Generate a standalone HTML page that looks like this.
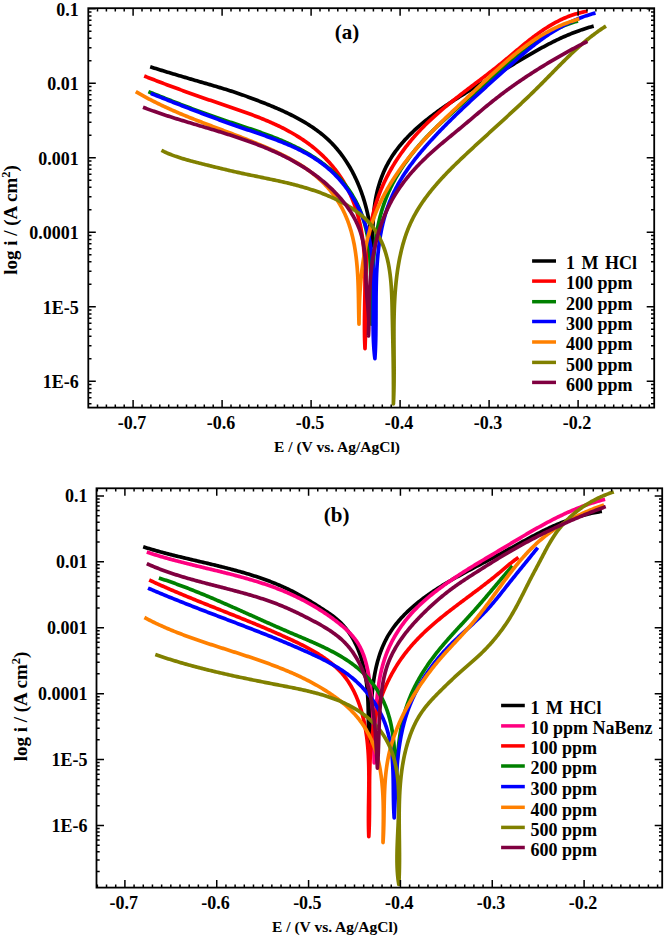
<!DOCTYPE html><html><head><meta charset="utf-8"><style>
html,body{margin:0;padding:0;background:#fff;width:666px;height:938px;overflow:hidden}
svg{display:block}
text{font-family:"Liberation Serif", serif;font-weight:bold;fill:#000}
.tl{font-size:18px}.lg{font-size:18px}.at{font-size:15.5px}.pl{font-size:21px}.yt{font-size:19px}
</style></head><body>
<svg width="666" height="938" viewBox="0 0 666 938">
<rect width="666" height="938" fill="#fff"/>
<g>
<path d="M150.2 66.8 151.62 67.25 153.04 67.7 154.46 68.15 155.89 68.6 157.32 69.04 158.76 69.49 160.2 69.94 161.64 70.38 163.09 70.83 164.54 71.27 165.99 71.71 167.44 72.15 168.9 72.6 170.36 73.04 171.82 73.48 173.28 73.91 174.75 74.35 176.21 74.79 177.68 75.23 179.15 75.66 180.62 76.1 182.09 76.53 183.56 76.97 185.03 77.4 186.5 77.83 187.97 78.26 189.44 78.69 190.91 79.12 192.38 79.55 193.85 79.98 195.31 80.41 196.78 80.84 198.24 81.26 199.71 81.69 201.17 82.11 202.63 82.54 204.08 82.96 205.54 83.39 206.99 83.81 208.44 84.23 209.88 84.65 211.33 85.07 212.77 85.49 214.21 85.92 215.64 86.34 217.08 86.76 218.51 87.19 219.94 87.62 221.36 88.05 222.78 88.48 224.2 88.91 225.62 89.35 227.04 89.79 228.45 90.23 229.86 90.68 231.26 91.12 232.67 91.58 234.07 92.04 235.47 92.5 236.86 92.97 238.26 93.44 239.65 93.91 241.04 94.4 242.42 94.88 243.81 95.38 245.19 95.88 246.58 96.38 247.96 96.89 249.35 97.4 250.73 97.92 252.13 98.44 253.52 98.96 254.92 99.49 256.32 100.03 257.73 100.57 259.13 101.11 260.55 101.66 261.96 102.21 263.38 102.76 264.8 103.33 266.23 103.89 267.65 104.47 269.07 105.04 270.5 105.63 271.93 106.22 273.35 106.82 274.78 107.42 276.2 108.03 277.63 108.65 279.05 109.27 280.47 109.9 281.89 110.54 283.31 111.18 284.72 111.83 286.13 112.5 287.54 113.16 288.94 113.84 290.34 114.53 291.73 115.22 293.12 115.92 294.5 116.64 295.88 117.36 297.25 118.09 298.61 118.83 299.97 119.58 301.32 120.33 302.66 121.1 303.99 121.88 305.32 122.67 306.63 123.47 307.94 124.29 309.24 125.11 310.53 125.94 311.8 126.79 313.07 127.64 314.33 128.51 315.57 129.39 316.81 130.28 318.03 131.18 319.24 132.1 320.43 133.03 321.61 133.97 322.78 134.93 323.94 135.89 325.08 136.87 326.21 137.87 327.32 138.88 328.41 139.9 329.49 140.93 330.56 141.98 331.61 143.04 332.65 144.12 333.67 145.21 334.67 146.31 335.66 147.42 336.64 148.55 337.6 149.68 338.55 150.83 339.48 151.99 340.4 153.16 341.3 154.35 342.19 155.54 343.07 156.74 343.93 157.96 344.77 159.19 345.61 160.42 346.43 161.67 347.23 162.92 348.02 164.19 348.8 165.46 349.56 166.75 350.31 168.04 351.05 169.34 351.77 170.66 352.48 171.97 353.17 173.3 353.86 174.64 354.52 175.98 355.18 177.33 355.82 178.69 356.45 180.06 357.07 181.43 357.67 182.81 358.26 184.2 358.84 185.6 359.41 187 359.96 188.4 360.5 189.81 361.02 191.23 361.54 192.66 362.04 194.09 362.53 195.52 363.01 196.96 363.47 198.4 363.93 199.85 364.37 201.31 364.8 202.76 365.21 204.22 365.62 205.69 366.01 207.16 366.39 208.63 366.76 210.11 367.12 211.59 367.47 213.07 367.8 214.55 368.12 216.04 368.44 217.53 368.74 219.02 369.03 220.51 369.31 222.01 369.57 223.5 369.83 225 370.07 226.5 370.31 228 370.53 229.5 370.74 231 370.95 232.5 371.14 234 371.32 235.5 371.49 237.01 371.65 238.51 371.8 240.01 371.94 241.51 372.06 243 372.18 244.5 372.29 246 372.35 244.51 372.39 243.02 372.43 241.52 372.47 240.02 372.51 238.52 372.55 237.02 372.59 235.51 372.63 234 372.68 232.49 372.73 230.98 372.78 229.47 372.84 227.95 372.9 226.44 372.97 224.92 373.04 223.41 373.12 221.89 373.21 220.38 373.3 218.86 373.41 217.35 373.52 215.84 373.65 214.33 373.78 212.82 373.92 211.31 374.08 209.8 374.25 208.3 374.43 206.79 374.63 205.29 374.83 203.8 375.06 202.3 375.3 200.81 375.55 199.33 375.82 197.84 376.11 196.36 376.42 194.89 376.74 193.42 377.08 191.96 377.43 190.5 377.81 189.04 378.2 187.59 378.61 186.15 379.03 184.71 379.48 183.28 379.94 181.85 380.42 180.44 380.91 179.03 381.43 177.62 381.96 176.23 382.51 174.84 383.08 173.46 383.66 172.09 384.26 170.72 384.88 169.37 385.52 168.02 386.18 166.69 386.85 165.36 387.55 164.04 388.26 162.74 388.99 161.44 389.73 160.15 390.5 158.88 391.28 157.61 392.08 156.36 392.9 155.11 393.74 153.88 394.59 152.66 395.46 151.45 396.34 150.24 397.24 149.05 398.15 147.87 399.08 146.7 400.03 145.53 400.99 144.38 401.96 143.24 402.94 142.1 403.94 140.98 404.95 139.86 405.97 138.75 407.01 137.66 408.05 136.57 409.11 135.49 410.18 134.42 411.26 133.36 412.35 132.3 413.44 131.26 414.55 130.22 415.67 129.19 416.79 128.17 417.93 127.16 419.07 126.16 420.22 125.16 421.38 124.17 422.54 123.19 423.71 122.22 424.88 121.25 426.07 120.3 427.25 119.35 428.45 118.4 429.64 117.47 430.85 116.54 432.05 115.61 433.26 114.7 434.48 113.79 435.69 112.89 436.92 111.99 438.14 111.1 439.37 110.22 440.6 109.34 441.84 108.47 443.08 107.6 444.32 106.74 445.57 105.88 446.82 105.03 448.07 104.18 449.33 103.34 450.59 102.51 451.85 101.67 453.11 100.84 454.38 100.02 455.65 99.2 456.92 98.38 458.19 97.57 459.47 96.76 460.75 95.96 462.03 95.16 463.31 94.36 464.59 93.56 465.88 92.77 467.16 91.98 468.45 91.19 469.74 90.4 471.03 89.62 472.32 88.84 473.62 88.06 474.91 87.28 476.2 86.5 477.5 85.73 478.8 84.95 480.09 84.18 481.39 83.41 482.69 82.64 483.99 81.87 485.28 81.1 486.58 80.33 487.88 79.56 489.18 78.79 490.48 78.02 491.77 77.25 493.07 76.48 494.37 75.71 495.66 74.94 496.96 74.17 498.26 73.4 499.55 72.63 500.84 71.85 502.13 71.08 503.43 70.3 504.72 69.52 506.01 68.74 507.3 67.96 508.58 67.18 509.87 66.4 511.16 65.62 512.45 64.84 513.74 64.07 515.03 63.29 516.32 62.51 517.61 61.74 518.89 60.96 520.19 60.19 521.48 59.42 522.77 58.65 524.06 57.88 525.35 57.12 526.65 56.35 527.94 55.59 529.24 54.84 530.54 54.08 531.84 53.33 533.14 52.59 534.45 51.84 535.75 51.1 537.06 50.37 538.37 49.64 539.68 48.91 541 48.19 542.31 47.47 543.63 46.76 544.95 46.05 546.28 45.35 547.6 44.65 548.93 43.96 550.27 43.28 551.6 42.6 552.94 41.93 554.29 41.26 555.63 40.6 556.98 39.95 558.34 39.31 559.69 38.67 561.06 38.04 562.42 37.42 563.79 36.81 565.16 36.2 566.54 35.6 567.93 35.01 569.31 34.43 570.71 33.86 572.1 33.3 573.5 32.75 574.91 32.21 576.32 31.67 577.74 31.15 579.16 30.64 580.59 30.13 582.02 29.64 583.46 29.16 584.91 28.69 586.36 28.23 587.81 27.78 589.27 27.34 590.74 26.92 592.22 26.5 593.7 26.1" stroke="#000000" stroke-width="3.7" fill="none" stroke-linejoin="round" stroke-linecap="butt"/>
<path d="M144.2 76 145.61 76.56 147.02 77.11 148.42 77.66 149.83 78.21 151.24 78.76 152.64 79.31 154.05 79.85 155.45 80.4 156.86 80.94 158.26 81.47 159.66 82.01 161.07 82.55 162.47 83.08 163.88 83.61 165.28 84.14 166.68 84.67 168.09 85.2 169.49 85.72 170.89 86.25 172.3 86.77 173.7 87.29 175.1 87.81 176.51 88.32 177.91 88.84 179.32 89.35 180.73 89.87 182.13 90.38 183.54 90.89 184.95 91.4 186.35 91.91 187.76 92.41 189.17 92.92 190.58 93.42 191.99 93.93 193.41 94.43 194.82 94.93 196.23 95.43 197.65 95.93 199.06 96.42 200.48 96.92 201.9 97.42 203.32 97.91 204.74 98.41 206.16 98.9 207.59 99.39 209.01 99.88 210.44 100.37 211.87 100.86 213.29 101.35 214.73 101.84 216.16 102.33 217.59 102.82 219.03 103.3 220.47 103.79 221.9 104.28 223.34 104.76 224.78 105.25 226.22 105.74 227.67 106.23 229.11 106.72 230.55 107.21 231.99 107.7 233.43 108.19 234.88 108.69 236.32 109.19 237.76 109.69 239.2 110.19 240.64 110.7 242.08 111.2 243.52 111.71 244.95 112.23 246.39 112.74 247.82 113.26 249.25 113.79 250.68 114.32 252.11 114.85 253.54 115.39 254.96 115.93 256.38 116.47 257.8 117.03 259.22 117.58 260.63 118.14 262.04 118.71 263.45 119.28 264.85 119.86 266.25 120.45 267.65 121.04 269.04 121.64 270.43 122.24 271.82 122.85 273.2 123.47 274.58 124.1 275.95 124.73 277.31 125.37 278.68 126.02 280.03 126.68 281.39 127.34 282.73 128.02 284.07 128.7 285.41 129.39 286.74 130.09 288.07 130.8 289.38 131.52 290.7 132.25 292 132.99 293.3 133.74 294.59 134.5 295.88 135.27 297.16 136.05 298.43 136.84 299.7 137.64 300.95 138.45 302.2 139.28 303.44 140.11 304.68 140.96 305.91 141.82 307.12 142.69 308.33 143.58 309.53 144.48 310.73 145.38 311.91 146.3 313.08 147.24 314.25 148.18 315.4 149.14 316.55 150.1 317.68 151.08 318.81 152.08 319.92 153.08 321.02 154.09 322.11 155.12 323.19 156.16 324.26 157.21 325.32 158.27 326.36 159.34 327.39 160.42 328.41 161.52 329.42 162.62 330.41 163.74 331.39 164.87 332.36 166.01 333.32 167.16 334.26 168.32 335.18 169.49 336.09 170.68 336.99 171.87 337.87 173.08 338.74 174.29 339.59 175.52 340.43 176.76 341.25 178.01 342.05 179.27 342.85 180.54 343.62 181.82 344.38 183.11 345.13 184.4 345.85 185.71 346.57 187.03 347.27 188.35 347.95 189.68 348.62 191.03 349.27 192.37 349.91 193.73 350.54 195.09 351.15 196.47 351.74 197.84 352.32 199.23 352.88 200.62 353.43 202.01 353.97 203.42 354.49 204.83 354.99 206.24 355.48 207.66 355.96 209.08 356.42 210.51 356.86 211.94 357.29 213.38 357.71 214.82 358.11 216.26 358.5 217.71 358.88 219.16 359.23 220.62 359.58 222.07 359.91 223.54 360.23 225 360.54 226.47 360.83 227.94 361.11 229.41 361.38 230.88 361.64 232.36 361.88 233.84 362.12 235.32 362.34 236.81 362.55 238.3 362.75 239.79 362.94 241.28 363.12 242.78 363.29 244.27 363.45 245.77 363.6 247.27 363.74 248.78 363.87 250.28 364 251.79 364.11 253.3 364.22 254.81 364.32 256.32 364.41 257.83 364.49 259.35 364.57 260.86 364.63 262.38 364.7 263.9 364.75 265.42 364.8 266.94 364.84 268.46 364.88 269.98 364.91 271.51 364.94 273.03 364.96 274.56 364.98 276.08 364.99 277.61 365 279.14 365 280.66 365 282.19 365 283.72 364.99 285.25 364.98 286.78 364.97 288.3 364.95 289.83 364.94 291.36 364.92 292.89 364.89 294.42 364.87 295.95 364.85 297.47 364.82 299 364.8 300.53 364.77 302.05 364.74 303.58 364.71 305.1 364.69 306.63 364.66 308.15 364.63 309.67 364.61 311.19 364.58 312.71 364.56 314.23 364.54 315.75 364.52 317.27 364.51 318.78 364.49 320.3 364.48 321.81 364.47 323.32 364.46 324.83 364.46 326.34 364.46 327.84 364.47 329.35 364.48 330.85 364.49 332.35 364.51 333.85 364.53 335.34 364.56 336.84 364.59 338.33 364.63 339.82 364.68 341.3 364.73 342.79 364.79 344.27 364.85 345.75 364.92 347.23 365 348.7 365.06 347.23 365.12 345.75 365.17 344.28 365.22 342.8 365.27 341.31 365.31 339.83 365.35 338.34 365.38 336.85 365.41 335.36 365.44 333.87 365.46 332.37 365.49 330.87 365.51 329.37 365.52 327.87 365.54 326.37 365.55 324.86 365.56 323.36 365.57 321.85 365.58 320.34 365.58 318.83 365.59 317.31 365.59 315.8 365.6 314.28 365.6 312.77 365.6 311.25 365.6 309.73 365.6 308.21 365.61 306.69 365.61 305.17 365.61 303.65 365.61 302.12 365.62 300.6 365.62 299.08 365.63 297.55 365.64 296.03 365.64 294.5 365.65 292.97 365.67 291.45 365.68 289.92 365.7 288.39 365.72 286.87 365.74 285.34 365.76 283.82 365.79 282.29 365.82 280.76 365.85 279.24 365.89 277.71 365.93 276.19 365.97 274.66 366.02 273.14 366.07 271.61 366.13 270.09 366.19 268.57 366.26 267.05 366.33 265.53 366.4 264.01 366.49 262.49 366.57 260.97 366.66 259.46 366.76 257.94 366.87 256.43 366.98 254.92 367.09 253.41 367.21 251.9 367.34 250.39 367.48 248.89 367.62 247.38 367.77 245.88 367.93 244.38 368.1 242.88 368.27 241.38 368.45 239.89 368.64 238.4 368.83 236.91 369.04 235.42 369.25 233.93 369.48 232.45 369.71 230.97 369.95 229.49 370.2 228.02 370.46 226.54 370.73 225.07 371.01 223.6 371.3 222.14 371.6 220.68 371.91 219.22 372.23 217.76 372.56 216.31 372.9 214.86 373.25 213.42 373.62 211.97 373.99 210.53 374.38 209.1 374.78 207.66 375.19 206.24 375.62 204.81 376.05 203.39 376.5 201.97 376.96 200.56 377.43 199.15 377.92 197.74 378.42 196.34 378.93 194.94 379.46 193.55 380 192.16 380.55 190.78 381.11 189.39 381.69 188.02 382.28 186.65 382.88 185.28 383.49 183.92 384.12 182.56 384.76 181.21 385.41 179.86 386.07 178.52 386.74 177.18 387.42 175.85 388.12 174.52 388.82 173.2 389.54 171.88 390.27 170.57 391.01 169.26 391.76 167.96 392.52 166.66 393.29 165.37 394.07 164.09 394.86 162.81 395.66 161.54 396.48 160.27 397.3 159.01 398.13 157.75 398.97 156.5 399.82 155.26 400.68 154.02 401.55 152.79 402.43 151.57 403.32 150.35 404.22 149.14 405.12 147.93 406.04 146.73 406.96 145.54 407.89 144.36 408.83 143.18 409.78 142.01 410.74 140.84 411.7 139.68 412.68 138.53 413.66 137.39 414.65 136.25 415.64 135.12 416.65 134 417.66 132.88 418.68 131.78 419.7 130.68 420.74 129.58 421.78 128.5 422.82 127.42 423.88 126.35 424.94 125.29 426 124.23 427.07 123.18 428.15 122.14 429.24 121.1 430.33 120.07 431.42 119.05 432.52 118.03 433.63 117.02 434.74 116.02 435.86 115.02 436.98 114.02 438.11 113.03 439.24 112.05 440.38 111.07 441.52 110.09 442.66 109.12 443.81 108.16 444.96 107.19 446.12 106.24 447.28 105.28 448.44 104.33 449.61 103.38 450.78 102.44 451.95 101.5 453.13 100.56 454.31 99.63 455.49 98.7 456.68 97.77 457.86 96.84 459.05 95.92 460.24 94.99 461.43 94.07 462.63 93.15 463.83 92.23 465.02 91.32 466.22 90.4 467.42 89.49 468.62 88.57 469.83 87.66 471.03 86.75 472.23 85.84 473.44 84.92 474.64 84.01 475.85 83.1 477.05 82.19 478.25 81.27 479.46 80.36 480.66 79.44 481.87 78.53 483.07 77.61 484.27 76.69 485.47 75.77 486.67 74.85 487.87 73.93 489.07 73 490.26 72.08 491.46 71.15 492.65 70.21 493.84 69.28 495.03 68.34 496.22 67.4 497.4 66.45 498.58 65.51 499.76 64.55 500.93 63.6 502.11 62.64 503.28 61.68 504.44 60.71 505.61 59.74 506.77 58.77 507.94 57.8 509.1 56.83 510.26 55.86 511.42 54.88 512.57 53.91 513.73 52.93 514.89 51.96 516.05 50.99 517.21 50.02 518.37 49.05 519.53 48.08 520.69 47.12 521.85 46.16 523.01 45.2 524.18 44.25 525.35 43.3 526.52 42.36 527.69 41.42 528.87 40.48 530.05 39.56 531.23 38.64 532.42 37.72 533.61 36.82 534.81 35.92 536.01 35.03 537.21 34.15 538.42 33.27 539.63 32.41 540.85 31.56 542.08 30.71 543.31 29.88 544.55 29.05 545.79 28.24 547.05 27.44 548.3 26.66 549.57 25.88 550.84 25.12 552.12 24.37 553.41 23.64 554.71 22.92 556.01 22.21 557.33 21.52 558.65 20.84 559.98 20.18 561.33 19.54 562.68 18.91 564.04 18.3 565.41 17.71 566.79 17.14 568.19 16.58 569.59 16.04 571.01 15.53 572.44 15.03 573.87 14.55 575.33 14.09 576.79 13.65 578.27 13.23 579.75 12.84 581.26 12.47 582.77 12.11 584.3 11.79 585.84 11.48 587.4 11.2" stroke="#ff0000" stroke-width="3.7" fill="none" stroke-linejoin="round" stroke-linecap="butt"/>
<path d="M148.4 91.6 149.81 92.17 151.22 92.73 152.63 93.3 154.04 93.87 155.45 94.43 156.86 94.99 158.26 95.56 159.67 96.12 161.07 96.68 162.47 97.23 163.87 97.79 165.27 98.35 166.67 98.9 168.07 99.45 169.47 100 170.87 100.55 172.27 101.1 173.67 101.65 175.07 102.2 176.47 102.74 177.86 103.28 179.26 103.82 180.66 104.36 182.06 104.9 183.46 105.44 184.85 105.97 186.25 106.51 187.65 107.04 189.05 107.57 190.45 108.09 191.85 108.62 193.25 109.15 194.66 109.67 196.06 110.19 197.46 110.71 198.87 111.23 200.27 111.74 201.68 112.26 203.09 112.77 204.5 113.28 205.91 113.79 207.32 114.3 208.73 114.8 210.15 115.3 211.56 115.81 212.98 116.3 214.4 116.8 215.82 117.3 217.25 117.79 218.67 118.28 220.1 118.77 221.53 119.26 222.96 119.74 224.39 120.22 225.83 120.71 227.26 121.19 228.7 121.67 230.14 122.14 231.58 122.62 233.02 123.1 234.46 123.58 235.91 124.05 237.35 124.53 238.8 125.01 240.24 125.48 241.69 125.96 243.13 126.44 244.58 126.92 246.02 127.41 247.47 127.89 248.91 128.38 250.36 128.87 251.8 129.36 253.25 129.85 254.69 130.34 256.13 130.84 257.57 131.35 259.01 131.85 260.45 132.36 261.88 132.87 263.32 133.39 264.75 133.91 266.18 134.44 267.61 134.97 269.04 135.5 270.46 136.04 271.89 136.59 273.31 137.14 274.72 137.7 276.14 138.26 277.55 138.83 278.96 139.41 280.36 139.99 281.77 140.58 283.16 141.18 284.56 141.78 285.95 142.39 287.34 143.01 288.72 143.64 290.1 144.27 291.48 144.92 292.85 145.57 294.22 146.23 295.58 146.9 296.94 147.58 298.29 148.27 299.64 148.97 300.98 149.68 302.32 150.39 303.65 151.12 304.97 151.86 306.29 152.61 307.61 153.37 308.92 154.15 310.22 154.93 311.52 155.72 312.8 156.53 314.08 157.35 315.36 158.17 316.62 159.01 317.87 159.87 319.12 160.73 320.36 161.6 321.58 162.49 322.8 163.39 324 164.3 325.2 165.22 326.38 166.15 327.55 167.1 328.71 168.06 329.86 169.03 331 170.01 332.12 171.01 333.23 172.02 334.32 173.04 335.4 174.07 336.47 175.12 337.52 176.18 338.55 177.25 339.57 178.34 340.58 179.44 341.56 180.55 342.54 181.67 343.49 182.81 344.43 183.96 345.35 185.12 346.26 186.3 347.15 187.48 348.02 188.68 348.88 189.89 349.72 191.11 350.54 192.34 351.34 193.58 352.13 194.83 352.9 196.09 353.65 197.36 354.38 198.64 355.1 199.94 355.8 201.24 356.48 202.55 357.14 203.87 357.79 205.19 358.41 206.53 359.02 207.87 359.61 209.23 360.18 210.59 360.73 211.96 361.26 213.33 361.78 214.72 362.27 216.11 362.75 217.5 363.21 218.91 363.65 220.32 364.07 221.74 364.47 223.16 364.86 224.59 365.24 226.03 365.59 227.47 365.94 228.92 366.26 230.37 366.57 231.83 366.87 233.3 367.15 234.77 367.42 236.24 367.68 237.72 367.92 239.2 368.15 240.69 368.36 242.18 368.57 243.67 368.76 245.17 368.94 246.68 369.11 248.18 369.27 249.69 369.42 251.2 369.56 252.72 369.69 254.24 369.81 255.76 369.92 257.28 370.02 258.81 370.11 260.34 370.2 261.87 370.28 263.4 370.35 264.93 370.42 266.47 370.47 268 370.53 269.54 370.57 271.08 370.61 272.62 370.65 274.16 370.68 275.7 370.71 277.24 370.73 278.78 370.75 280.32 370.77 281.86 370.78 283.4 370.79 284.94 370.8 286.48 370.8 288.01 370.81 289.55 370.81 291.08 370.81 292.62 370.82 294.15 370.82 295.68 370.82 297.21 370.82 298.73 370.83 300.26 370.83 301.78 370.84 303.3 370.85 304.82 370.86 306.33 370.87 307.84 370.89 309.35 370.91 310.85 370.93 312.35 370.96 313.85 370.99 315.34 371.03 316.83 371.07 318.31 371.12 319.79 371.17 321.26 371.23 322.73 371.3 324.2 371.36 322.71 371.41 321.22 371.46 319.72 371.5 318.23 371.55 316.73 371.59 315.23 371.63 313.73 371.67 312.22 371.7 310.72 371.74 309.21 371.77 307.7 371.81 306.19 371.84 304.68 371.87 303.17 371.9 301.65 371.94 300.14 371.97 298.62 372 297.1 372.03 295.59 372.07 294.07 372.1 292.55 372.14 291.03 372.18 289.51 372.22 287.98 372.26 286.46 372.31 284.94 372.35 283.42 372.4 281.89 372.45 280.37 372.51 278.85 372.56 277.33 372.62 275.8 372.69 274.28 372.76 272.76 372.83 271.24 372.91 269.72 372.99 268.2 373.07 266.68 373.17 265.16 373.26 263.64 373.36 262.13 373.47 260.61 373.58 259.1 373.7 257.58 373.82 256.07 373.95 254.56 374.09 253.05 374.24 251.54 374.39 250.04 374.55 248.53 374.71 247.03 374.88 245.53 375.07 244.03 375.26 242.54 375.45 241.04 375.66 239.55 375.87 238.06 376.1 236.57 376.33 235.09 376.57 233.61 376.82 232.13 377.09 230.65 377.36 229.18 377.64 227.71 377.93 226.24 378.23 224.77 378.55 223.31 378.87 221.85 379.21 220.4 379.55 218.95 379.91 217.5 380.28 216.05 380.67 214.61 381.06 213.17 381.47 211.74 381.89 210.31 382.32 208.89 382.77 207.47 383.23 206.05 383.7 204.64 384.19 203.23 384.69 201.82 385.2 200.42 385.73 199.03 386.28 197.64 386.84 196.25 387.41 194.87 388 193.5 388.6 192.13 389.22 190.76 389.85 189.4 390.49 188.04 391.15 186.69 391.82 185.35 392.5 184.01 393.19 182.67 393.9 181.34 394.62 180.02 395.36 178.7 396.1 177.38 396.86 176.07 397.63 174.77 398.41 173.47 399.2 172.18 400 170.9 400.82 169.62 401.64 168.34 402.48 167.07 403.32 165.81 404.18 164.55 405.04 163.3 405.92 162.06 406.8 160.82 407.7 159.59 408.6 158.36 409.51 157.14 410.43 155.92 411.36 154.72 412.3 153.51 413.25 152.32 414.2 151.13 415.17 149.95 416.14 148.77 417.11 147.6 418.1 146.44 419.09 145.28 420.09 144.13 421.1 142.99 422.11 141.85 423.13 140.72 424.16 139.6 425.19 138.49 426.22 137.38 427.27 136.28 428.32 135.18 429.37 134.09 430.43 133.01 431.49 131.94 432.56 130.88 433.63 129.82 434.71 128.76 435.79 127.72 436.87 126.68 437.96 125.64 439.06 124.61 440.15 123.58 441.25 122.56 442.35 121.55 443.46 120.53 444.56 119.53 445.67 118.52 446.78 117.52 447.9 116.52 449.01 115.52 450.13 114.52 451.24 113.53 452.36 112.54 453.48 111.54 454.6 110.55 455.72 109.56 456.85 108.58 457.97 107.59 459.09 106.6 460.22 105.61 461.34 104.63 462.47 103.64 463.59 102.65 464.72 101.67 465.85 100.68 466.97 99.69 468.1 98.7 469.23 97.71 470.36 96.73 471.48 95.73 472.61 94.74 473.74 93.75 474.87 92.76 475.99 91.76 477.12 90.77 478.25 89.77 479.38 88.77 480.5 87.77 481.63 86.76 482.75 85.76 483.88 84.75 485 83.74 486.13 82.73 487.25 81.71 488.37 80.69 489.5 79.68 490.62 78.66 491.74 77.64 492.87 76.61 493.99 75.59 495.12 74.57 496.24 73.55 497.37 72.53 498.5 71.51 499.63 70.49 500.76 69.47 501.89 68.46 503.02 67.44 504.16 66.43 505.29 65.42 506.43 64.41 507.57 63.41 508.72 62.41 509.86 61.41 511.01 60.42 512.16 59.43 513.32 58.44 514.48 57.46 515.64 56.49 516.8 55.52 517.97 54.55 519.14 53.59 520.32 52.64 521.49 51.69 522.68 50.75 523.87 49.82 525.06 48.9 526.25 47.98 527.46 47.07 528.66 46.16 529.87 45.27 531.09 44.39 532.31 43.51 533.54 42.64 534.77 41.78 536.01 40.94 537.25 40.1 538.5 39.27 539.76 38.45 541.02 37.65 542.29 36.85 543.56 36.07 544.84 35.29 546.13 34.53 547.43 33.79 548.73 33.05 550.04 32.33 551.36 31.62 552.69 30.92 554.02 30.24 555.36 29.57 556.71 28.92 558.06 28.28 559.43 27.65 560.8 27.04 562.19 26.45 563.58 25.87 564.98 25.31 566.39 24.76 567.8 24.23 569.23 23.71 570.67 23.22 572.11 22.74 573.57 22.28 575.04 21.83 576.51 21.41 578 21" stroke="#008000" stroke-width="3.7" fill="none" stroke-linejoin="round" stroke-linecap="butt"/>
<path d="M150.8 93.4 152.24 93.97 153.67 94.55 155.11 95.12 156.54 95.69 157.96 96.26 159.39 96.82 160.81 97.39 162.23 97.95 163.64 98.51 165.06 99.07 166.47 99.63 167.88 100.19 169.28 100.75 170.69 101.3 172.09 101.86 173.49 102.41 174.89 102.96 176.29 103.51 177.69 104.06 179.09 104.6 180.48 105.15 181.87 105.69 183.26 106.23 184.66 106.78 186.05 107.31 187.43 107.85 188.82 108.39 190.21 108.93 191.6 109.46 192.99 109.99 194.37 110.53 195.76 111.06 197.15 111.59 198.53 112.11 199.92 112.64 201.31 113.17 202.69 113.69 204.08 114.21 205.47 114.74 206.86 115.26 208.24 115.78 209.63 116.29 211.02 116.81 212.42 117.33 213.81 117.84 215.2 118.36 216.6 118.87 217.99 119.38 219.39 119.89 220.79 120.4 222.19 120.91 223.59 121.42 225 121.92 226.41 122.43 227.81 122.93 229.23 123.43 230.64 123.94 232.05 124.44 233.47 124.94 234.89 125.43 236.31 125.93 237.74 126.43 239.17 126.92 240.6 127.42 242.03 127.91 243.47 128.41 244.91 128.9 246.35 129.39 247.8 129.88 249.24 130.37 250.69 130.87 252.14 131.36 253.59 131.85 255.04 132.35 256.5 132.85 257.95 133.34 259.4 133.84 260.86 134.35 262.31 134.85 263.76 135.36 265.22 135.87 266.67 136.39 268.12 136.91 269.56 137.43 271.01 137.95 272.45 138.49 273.9 139.02 275.34 139.56 276.77 140.11 278.21 140.66 279.64 141.22 281.06 141.78 282.49 142.35 283.91 142.92 285.32 143.51 286.73 144.09 288.14 144.69 289.54 145.3 290.93 145.91 292.32 146.53 293.71 147.16 295.09 147.79 296.46 148.44 297.82 149.1 299.18 149.76 300.53 150.44 301.88 151.12 303.21 151.81 304.54 152.52 305.87 153.24 307.18 153.96 308.48 154.7 309.78 155.45 311.06 156.21 312.34 156.99 313.61 157.77 314.87 158.57 316.12 159.38 317.35 160.21 318.58 161.04 319.8 161.9 321 162.76 322.2 163.64 323.38 164.54 324.55 165.44 325.71 166.37 326.86 167.31 327.99 168.26 329.11 169.23 330.22 170.22 331.32 171.22 332.4 172.23 333.47 173.26 334.53 174.3 335.58 175.35 336.61 176.42 337.63 177.51 338.63 178.6 339.63 179.71 340.61 180.83 341.57 181.97 342.53 183.11 343.46 184.27 344.39 185.44 345.3 186.62 346.2 187.82 347.08 189.02 347.95 190.24 348.81 191.46 349.65 192.7 350.48 193.95 351.29 195.2 352.09 196.47 352.87 197.75 353.64 199.03 354.4 200.33 355.14 201.63 355.87 202.95 356.58 204.27 357.28 205.6 357.96 206.94 358.63 208.28 359.28 209.64 359.91 211 360.54 212.37 361.14 213.74 361.73 215.12 362.31 216.51 362.87 217.91 363.41 219.31 363.94 220.72 364.45 222.13 364.95 223.55 365.43 224.97 365.9 226.4 366.35 227.84 366.78 229.28 367.2 230.72 367.6 232.17 367.98 233.62 368.35 235.07 368.7 236.53 369.04 237.99 369.36 239.46 369.67 240.93 369.96 242.4 370.23 243.88 370.5 245.36 370.74 246.84 370.98 248.32 371.2 249.81 371.41 251.3 371.61 252.79 371.79 254.29 371.96 255.79 372.12 257.29 372.28 258.79 372.41 260.29 372.54 261.8 372.66 263.31 372.77 264.82 372.87 266.33 372.96 267.85 373.05 269.36 373.12 270.88 373.19 272.4 373.25 273.92 373.3 275.44 373.34 276.97 373.38 278.49 373.41 280.02 373.44 281.54 373.46 283.07 373.47 284.6 373.48 286.13 373.49 287.66 373.49 289.19 373.48 290.72 373.48 292.25 373.47 293.78 373.46 295.31 373.44 296.84 373.42 298.37 373.41 299.91 373.39 301.44 373.36 302.97 373.34 304.5 373.32 306.03 373.3 307.56 373.27 309.09 373.25 310.61 373.23 312.14 373.21 313.67 373.19 315.19 373.18 316.72 373.16 318.24 373.15 319.76 373.14 321.28 373.14 322.8 373.14 324.32 373.14 325.84 373.15 327.35 373.16 328.86 373.17 330.37 373.2 331.88 373.22 333.39 373.26 334.89 373.3 336.39 373.34 337.89 373.4 339.39 373.46 340.89 373.53 342.38 373.61 343.87 373.69 345.36 373.79 346.84 373.89 348.32 374 349.8 374.13 351.27 374.26 352.75 374.4 354.22 374.56 355.68 374.72 357.14 374.9 358.6 375 357.15 375.08 355.69 375.17 354.24 375.24 352.77 375.32 351.31 375.38 349.84 375.44 348.36 375.5 346.89 375.55 345.41 375.6 343.92 375.65 342.44 375.69 340.95 375.73 339.45 375.76 337.96 375.79 336.46 375.82 334.96 375.84 333.45 375.86 331.95 375.88 330.44 375.9 328.93 375.91 327.42 375.93 325.9 375.94 324.38 375.95 322.86 375.95 321.34 375.96 319.82 375.97 318.29 375.97 316.77 375.98 315.24 375.98 313.71 375.99 312.18 375.99 310.65 375.99 309.11 376 307.58 376 306.05 376.01 304.51 376.02 302.97 376.03 301.44 376.04 299.9 376.05 298.36 376.06 296.82 376.08 295.28 376.1 293.74 376.12 292.2 376.14 290.66 376.16 289.13 376.19 287.59 376.22 286.05 376.26 284.51 376.3 282.97 376.34 281.43 376.39 279.9 376.44 278.36 376.49 276.83 376.55 275.29 376.61 273.76 376.68 272.23 376.76 270.69 376.84 269.17 376.92 267.64 377.01 266.11 377.11 264.58 377.21 263.06 377.32 261.54 377.44 260.02 377.56 258.5 377.69 256.99 377.83 255.47 377.97 253.96 378.12 252.45 378.28 250.94 378.45 249.44 378.62 247.94 378.8 246.44 379 244.94 379.2 243.45 379.4 241.96 379.62 240.47 379.85 238.98 380.09 237.5 380.33 236.03 380.59 234.55 380.86 233.08 381.13 231.61 381.42 230.15 381.72 228.69 382.03 227.23 382.35 225.78 382.68 224.33 383.02 222.89 383.37 221.45 383.74 220.02 384.12 218.59 384.51 217.16 384.91 215.74 385.32 214.32 385.75 212.91 386.19 211.5 386.65 210.1 387.11 208.7 387.59 207.31 388.09 205.93 388.6 204.55 389.12 203.17 389.66 201.8 390.21 200.44 390.77 199.08 391.36 197.72 391.95 196.38 392.56 195.04 393.19 193.7 393.83 192.37 394.48 191.05 395.15 189.73 395.83 188.42 396.53 187.11 397.23 185.81 397.95 184.51 398.69 183.22 399.43 181.94 400.19 180.66 400.96 179.38 401.74 178.11 402.53 176.85 403.33 175.59 404.15 174.34 404.97 173.09 405.81 171.85 406.65 170.61 407.51 169.37 408.37 168.14 409.25 166.92 410.13 165.7 411.02 164.49 411.93 163.28 412.84 162.07 413.75 160.87 414.68 159.68 415.61 158.48 416.56 157.3 417.5 156.11 418.46 154.94 419.42 153.76 420.39 152.59 421.37 151.43 422.35 150.27 423.34 149.11 424.33 147.96 425.33 146.81 426.33 145.66 427.34 144.52 428.35 143.39 429.37 142.25 430.39 141.12 431.42 140 432.45 138.88 433.48 137.76 434.52 136.64 435.56 135.53 436.6 134.43 437.64 133.32 438.69 132.22 439.74 131.12 440.79 130.03 441.85 128.94 442.91 127.85 443.97 126.77 445.03 125.69 446.09 124.61 447.16 123.53 448.23 122.46 449.3 121.39 450.38 120.33 451.46 119.26 452.53 118.2 453.62 117.14 454.7 116.08 455.78 115.03 456.87 113.98 457.96 112.93 459.05 111.88 460.14 110.84 461.24 109.79 462.33 108.75 463.43 107.71 464.53 106.68 465.63 105.64 466.73 104.61 467.83 103.58 468.94 102.55 470.04 101.52 471.15 100.49 472.26 99.47 473.37 98.44 474.48 97.42 475.59 96.4 476.7 95.38 477.82 94.36 478.93 93.34 480.04 92.33 481.16 91.31 482.28 90.3 483.4 89.28 484.51 88.27 485.63 87.26 486.75 86.24 487.87 85.23 488.99 84.22 490.11 83.21 491.23 82.2 492.35 81.19 493.48 80.19 494.6 79.18 495.72 78.17 496.84 77.16 497.96 76.15 499.09 75.14 500.21 74.14 501.33 73.13 502.45 72.12 503.57 71.11 504.7 70.1 505.82 69.1 506.94 68.09 508.07 67.09 509.19 66.08 510.32 65.08 511.44 64.08 512.57 63.08 513.7 62.09 514.83 61.09 515.97 60.1 517.1 59.11 518.24 58.13 519.38 57.15 520.52 56.17 521.66 55.2 522.81 54.23 523.96 53.26 525.11 52.3 526.26 51.34 527.42 50.39 528.58 49.44 529.75 48.5 530.92 47.57 532.09 46.64 533.27 45.71 534.45 44.79 535.63 43.88 536.82 42.98 538.01 42.08 539.21 41.19 540.41 40.3 541.62 39.43 542.83 38.56 544.05 37.7 545.27 36.84 546.5 36 547.73 35.16 548.97 34.33 550.21 33.52 551.46 32.71 552.72 31.91 553.98 31.12 555.25 30.34 556.53 29.57 557.81 28.81 559.1 28.06 560.4 27.32 561.7 26.59 563.01 25.88 564.33 25.17 565.66 24.48 566.99 23.8 568.33 23.13 569.68 22.47 571.04 21.83 572.41 21.2 573.78 20.58 575.16 19.97 576.55 19.38 577.95 18.8 579.36 18.24 580.78 17.69 582.21 17.15 583.65 16.63 585.09 16.12 586.55 15.63 588.02 15.15 589.49 14.69 590.98 14.24 592.48 13.81 593.98 13.4 595.5 13" stroke="#0000ff" stroke-width="3.7" fill="none" stroke-linejoin="round" stroke-linecap="butt"/>
<path d="M135.8 91.6 137.11 92.38 138.42 93.14 139.74 93.9 141.06 94.65 142.38 95.4 143.71 96.13 145.04 96.86 146.37 97.58 147.7 98.3 149.03 99.01 150.37 99.71 151.71 100.4 153.06 101.09 154.4 101.77 155.75 102.44 157.1 103.11 158.45 103.78 159.81 104.43 161.16 105.08 162.52 105.73 163.88 106.37 165.25 107.01 166.61 107.64 167.98 108.26 169.35 108.88 170.72 109.49 172.09 110.1 173.47 110.71 174.84 111.31 176.22 111.91 177.6 112.5 178.98 113.09 180.36 113.68 181.75 114.26 183.14 114.84 184.52 115.41 185.91 115.98 187.3 116.55 188.69 117.11 190.09 117.68 191.48 118.23 192.88 118.79 194.28 119.35 195.67 119.9 197.07 120.45 198.47 120.99 199.88 121.54 201.28 122.08 202.68 122.62 204.09 123.16 205.49 123.7 206.9 124.24 208.31 124.78 209.71 125.31 211.12 125.85 212.53 126.38 213.94 126.91 215.35 127.45 216.76 127.98 218.17 128.51 219.59 129.04 221 129.57 222.41 130.1 223.82 130.64 225.24 131.17 226.65 131.7 228.07 132.24 229.48 132.77 230.89 133.31 232.31 133.84 233.72 134.38 235.14 134.92 236.55 135.46 237.97 136.01 239.38 136.55 240.8 137.1 242.21 137.65 243.63 138.2 245.04 138.75 246.45 139.31 247.87 139.86 249.28 140.42 250.69 140.99 252.1 141.55 253.51 142.12 254.93 142.7 256.34 143.27 257.75 143.85 259.15 144.44 260.56 145.02 261.97 145.62 263.38 146.21 264.78 146.81 266.19 147.41 267.59 148.02 268.99 148.64 270.39 149.26 271.79 149.88 273.19 150.51 274.58 151.15 275.97 151.79 277.35 152.44 278.73 153.09 280.11 153.75 281.48 154.42 282.85 155.1 284.22 155.79 285.58 156.48 286.93 157.18 288.28 157.89 289.62 158.61 290.96 159.33 292.29 160.07 293.61 160.81 294.92 161.57 296.23 162.33 297.53 163.11 298.83 163.89 300.11 164.69 301.39 165.49 302.65 166.31 303.91 167.14 305.16 167.98 306.4 168.83 307.63 169.7 308.85 170.58 310.06 171.47 311.26 172.37 312.44 173.28 313.62 174.21 314.78 175.16 315.94 176.11 317.08 177.08 318.21 178.07 319.32 179.07 320.42 180.08 321.51 181.11 322.59 182.15 323.65 183.21 324.7 184.29 325.73 185.38 326.75 186.49 327.76 187.61 328.74 188.75 329.72 189.9 330.68 191.07 331.62 192.25 332.54 193.45 333.45 194.66 334.34 195.88 335.22 197.11 336.07 198.36 336.91 199.61 337.73 200.88 338.54 202.16 339.32 203.45 340.09 204.74 340.83 206.05 341.56 207.37 342.27 208.69 342.95 210.02 343.62 211.37 344.27 212.71 344.9 214.07 345.5 215.43 346.09 216.8 346.66 218.18 347.22 219.56 347.75 220.95 348.27 222.35 348.77 223.75 349.25 225.16 349.72 226.58 350.16 228 350.6 229.43 351.01 230.86 351.42 232.3 351.8 233.74 352.17 235.19 352.53 236.65 352.87 238.1 353.2 239.57 353.52 241.04 353.82 242.51 354.11 243.98 354.39 245.46 354.65 246.95 354.9 248.44 355.14 249.93 355.37 251.42 355.59 252.92 355.79 254.42 355.99 255.93 356.18 257.43 356.35 258.94 356.52 260.46 356.68 261.97 356.82 263.49 356.96 265.01 357.09 266.53 357.22 268.05 357.33 269.57 357.44 271.1 357.54 272.63 357.64 274.15 357.73 275.68 357.81 277.21 357.88 278.74 357.95 280.27 358.02 281.81 358.08 283.34 358.13 284.87 358.19 286.4 358.23 287.93 358.28 289.46 358.32 290.99 358.36 292.52 358.39 294.05 358.42 295.58 358.45 297.1 358.48 298.63 358.51 300.15 358.54 301.67 358.56 303.19 358.59 304.71 358.61 306.23 358.63 307.74 358.66 309.25 358.68 310.76 358.71 312.27 358.74 313.77 358.77 315.27 358.8 316.77 358.83 318.26 358.87 319.75 358.91 321.24 358.95 322.72 359 324.2 359.01 322.71 359.03 321.22 359.04 319.73 359.06 318.24 359.08 316.74 359.11 315.24 359.14 313.75 359.17 312.24 359.21 310.74 359.25 309.24 359.29 307.74 359.34 306.23 359.39 304.72 359.44 303.21 359.5 301.71 359.56 300.2 359.63 298.69 359.71 297.18 359.78 295.66 359.87 294.15 359.95 292.64 360.05 291.13 360.14 289.62 360.25 288.1 360.36 286.59 360.47 285.08 360.59 283.57 360.72 282.06 360.85 280.54 360.99 279.03 361.13 277.52 361.28 276.02 361.44 274.51 361.6 273 361.78 271.49 361.95 269.99 362.14 268.48 362.33 266.98 362.53 265.48 362.74 263.98 362.95 262.48 363.17 260.98 363.4 259.49 363.64 257.99 363.89 256.5 364.14 255.01 364.4 253.53 364.67 252.04 364.95 250.56 365.24 249.08 365.54 247.6 365.84 246.13 366.16 244.66 366.48 243.19 366.81 241.72 367.16 240.26 367.51 238.8 367.87 237.34 368.24 235.89 368.62 234.43 369.02 232.99 369.42 231.54 369.83 230.1 370.25 228.67 370.69 227.24 371.13 225.81 371.58 224.38 372.05 222.96 372.53 221.55 373.01 220.14 373.51 218.73 374.02 217.33 374.55 215.93 375.08 214.54 375.63 213.15 376.18 211.76 376.75 210.39 377.33 209.01 377.92 207.64 378.53 206.28 379.14 204.92 379.77 203.56 380.4 202.21 381.05 200.87 381.71 199.53 382.38 198.19 383.06 196.86 383.75 195.54 384.45 194.22 385.15 192.9 385.87 191.59 386.6 190.28 387.34 188.98 388.09 187.68 388.85 186.39 389.61 185.1 390.39 183.82 391.17 182.54 391.97 181.27 392.77 180 393.58 178.74 394.4 177.48 395.23 176.22 396.06 174.98 396.91 173.73 397.76 172.49 398.62 171.25 399.48 170.02 400.36 168.8 401.24 167.58 402.13 166.36 403.03 165.15 403.93 163.94 404.84 162.74 405.76 161.54 406.68 160.35 407.61 159.16 408.55 157.97 409.49 156.79 410.44 155.62 411.39 154.45 412.35 153.28 413.32 152.12 414.29 150.97 415.27 149.82 416.25 148.67 417.24 147.53 418.23 146.39 419.23 145.26 420.24 144.13 421.24 143 422.25 141.88 423.27 140.77 424.29 139.66 425.32 138.55 426.35 137.45 427.38 136.35 428.42 135.26 429.46 134.17 430.5 133.08 431.55 132 432.6 130.92 433.66 129.84 434.72 128.77 435.78 127.7 436.84 126.63 437.91 125.56 438.98 124.5 440.05 123.44 441.13 122.39 442.21 121.33 443.29 120.28 444.37 119.23 445.45 118.18 446.54 117.13 447.63 116.09 448.72 115.05 449.81 114.01 450.91 112.97 452 111.93 453.1 110.89 454.2 109.85 455.3 108.82 456.4 107.79 457.5 106.75 458.6 105.72 459.71 104.69 460.81 103.65 461.92 102.62 463.02 101.59 464.13 100.56 465.23 99.53 466.34 98.5 467.44 97.47 468.55 96.43 469.66 95.4 470.76 94.37 471.87 93.33 472.97 92.3 474.08 91.26 475.18 90.22 476.28 89.19 477.38 88.15 478.49 87.11 479.59 86.07 480.69 85.03 481.79 83.99 482.89 82.95 484 81.91 485.1 80.88 486.2 79.84 487.31 78.81 488.41 77.77 489.52 76.74 490.62 75.71 491.73 74.68 492.84 73.65 493.95 72.63 495.06 71.61 496.18 70.59 497.29 69.57 498.41 68.56 499.53 67.55 500.65 66.54 501.77 65.54 502.9 64.54 504.03 63.54 505.16 62.55 506.29 61.57 507.43 60.59 508.57 59.61 509.71 58.64 510.86 57.67 512.01 56.71 513.16 55.75 514.32 54.8 515.48 53.86 516.64 52.92 517.81 51.99 518.98 51.06 520.15 50.14 521.33 49.23 522.52 48.33 523.71 47.43 524.9 46.54 526.1 45.66 527.3 44.79 528.51 43.92 529.72 43.06 530.94 42.21 532.17 41.37 533.4 40.54 534.63 39.72 535.87 38.9 537.12 38.1 538.37 37.31 539.63 36.52 540.89 35.75 542.16 34.98 543.44 34.23 544.72 33.48 546.02 32.75 547.31 32.03 548.62 31.32 549.93 30.62 551.25 29.93 552.57 29.26 553.91 28.59 555.25 27.94 556.59 27.3 557.95 26.67 559.31 26.06 560.69 25.46 562.07 24.87 563.45 24.29 564.85 23.73 566.25 23.18 567.67 22.65 569.09 22.13 570.52 21.62 571.96 21.13 573.41 20.66 574.87 20.19 576.34 19.75 577.81 19.31 579.3 18.9" stroke="#ff8000" stroke-width="3.7" fill="none" stroke-linejoin="round" stroke-linecap="butt"/>
<path d="M161.4 150.3 162.72 150.97 164.04 151.62 165.38 152.24 166.73 152.85 168.09 153.44 169.46 154.01 170.84 154.56 172.22 155.1 173.61 155.62 175.01 156.13 176.42 156.62 177.84 157.1 179.26 157.56 180.68 158.02 182.11 158.46 183.55 158.89 184.99 159.32 186.44 159.73 187.88 160.14 189.34 160.54 190.79 160.93 192.25 161.32 193.7 161.7 195.16 162.08 196.63 162.45 198.09 162.82 199.55 163.19 201.01 163.56 202.47 163.93 203.93 164.3 205.39 164.67 206.85 165.03 208.31 165.4 209.77 165.76 211.23 166.12 212.7 166.48 214.16 166.84 215.62 167.2 217.08 167.56 218.54 167.91 220 168.27 221.47 168.62 222.93 168.97 224.39 169.31 225.86 169.66 227.33 170 228.79 170.35 230.26 170.69 231.73 171.02 233.2 171.36 234.67 171.69 236.14 172.02 237.62 172.35 239.09 172.68 240.57 173 242.05 173.32 243.53 173.64 245.01 173.96 246.49 174.27 247.98 174.58 249.46 174.89 250.95 175.2 252.44 175.51 253.93 175.81 255.42 176.12 256.91 176.42 258.4 176.73 259.89 177.03 261.38 177.34 262.87 177.65 264.36 177.95 265.85 178.26 267.34 178.57 268.83 178.88 270.32 179.19 271.81 179.51 273.3 179.83 274.79 180.15 276.28 180.47 277.77 180.79 279.25 181.12 280.74 181.45 282.22 181.79 283.7 182.13 285.18 182.47 286.66 182.82 288.14 183.17 289.62 183.53 291.09 183.89 292.56 184.26 294.03 184.63 295.5 185.01 296.97 185.4 298.43 185.79 299.89 186.19 301.35 186.6 302.8 187.01 304.26 187.43 305.71 187.86 307.15 188.29 308.6 188.74 310.04 189.19 311.47 189.65 312.91 190.12 314.34 190.6 315.76 191.09 317.19 191.58 318.6 192.09 320.02 192.61 321.43 193.14 322.83 193.68 324.24 194.22 325.63 194.78 327.03 195.36 328.41 195.94 329.8 196.53 331.18 197.14 332.55 197.76 333.92 198.39 335.28 199.03 336.64 199.69 337.99 200.36 339.34 201.04 340.68 201.74 342.02 202.45 343.35 203.18 344.67 203.92 345.99 204.67 347.29 205.44 348.59 206.22 349.88 207.02 351.16 207.84 352.43 208.67 353.69 209.52 354.94 210.38 356.17 211.26 357.38 212.16 358.58 213.07 359.77 214 360.94 214.95 362.09 215.91 363.22 216.9 364.33 217.9 365.42 218.92 366.49 219.95 367.54 221.01 368.57 222.09 369.57 223.18 370.55 224.29 371.51 225.43 372.43 226.58 373.34 227.75 374.21 228.95 375.06 230.16 375.88 231.39 376.67 232.64 377.44 233.91 378.19 235.19 378.9 236.49 379.6 237.8 380.27 239.12 380.91 240.46 381.54 241.82 382.13 243.18 382.71 244.56 383.26 245.95 383.79 247.34 384.3 248.75 384.79 250.16 385.25 251.59 385.69 253.02 386.12 254.45 386.52 255.9 386.9 257.35 387.27 258.81 387.62 260.28 387.94 261.75 388.26 263.22 388.55 264.71 388.83 266.2 389.09 267.69 389.34 269.19 389.58 270.69 389.79 272.2 390 273.71 390.19 275.23 390.37 276.74 390.54 278.27 390.7 279.79 390.84 281.32 390.98 282.85 391.1 284.38 391.22 285.92 391.32 287.46 391.42 288.99 391.51 290.53 391.59 292.07 391.67 293.61 391.74 295.16 391.8 296.7 391.86 298.24 391.91 299.78 391.96 301.32 392.01 302.86 392.05 304.4 392.09 305.94 392.12 307.47 392.16 309.01 392.19 310.54 392.23 312.07 392.26 313.59 392.29 315.12 392.33 316.64 392.36 318.16 392.4 319.68 392.43 321.19 392.46 322.7 392.5 324.21 392.53 325.72 392.56 327.22 392.6 328.73 392.63 330.23 392.66 331.73 392.69 333.23 392.73 334.73 392.76 336.23 392.79 337.72 392.82 339.22 392.85 340.71 392.88 342.2 392.91 343.69 392.94 345.18 392.97 346.67 393 348.16 393.03 349.65 393.05 351.14 393.08 352.63 393.11 354.12 393.13 355.61 393.16 357.1 393.18 358.59 393.2 360.08 393.22 361.57 393.25 363.06 393.27 364.55 393.29 366.04 393.3 367.54 393.32 369.03 393.34 370.53 393.35 372.02 393.37 373.52 393.38 375.02 393.39 376.52 393.41 378.02 393.42 379.53 393.43 381.03 393.43 382.54 393.44 384.05 393.45 385.56 393.45 387.07 393.45 388.59 393.45 390.11 393.45 391.63 393.45 393.15 393.45 394.68 393.44 396.21 393.44 397.74 393.43 399.28 393.42 400.81 393.41 402.36 393.4 403.9 393.48 402.41 393.55 400.93 393.61 399.44 393.68 397.95 393.73 396.45 393.78 394.96 393.83 393.47 393.88 391.97 393.92 390.47 393.95 388.97 393.98 387.47 394.01 385.97 394.04 384.47 394.06 382.97 394.08 381.46 394.09 379.96 394.1 378.45 394.11 376.94 394.12 375.44 394.13 373.93 394.13 372.42 394.13 370.91 394.13 369.39 394.12 367.88 394.12 366.37 394.11 364.85 394.11 363.34 394.1 361.82 394.09 360.31 394.08 358.79 394.07 357.27 394.05 355.76 394.04 354.24 394.03 352.72 394.02 351.2 394.01 349.68 394 348.16 393.98 346.64 393.97 345.12 393.96 343.6 393.95 342.08 393.95 340.56 393.94 339.04 393.94 337.52 393.93 336 393.93 334.48 393.93 332.96 393.93 331.44 393.94 329.92 393.94 328.4 393.95 326.88 393.96 325.36 393.98 323.84 393.99 322.32 394.01 320.8 394.04 319.28 394.07 317.76 394.1 316.24 394.13 314.72 394.17 313.21 394.21 311.69 394.26 310.17 394.31 308.66 394.36 307.14 394.42 305.63 394.49 304.12 394.56 302.6 394.64 301.09 394.72 299.58 394.8 298.07 394.89 296.56 394.99 295.05 395.09 293.54 395.2 292.04 395.32 290.53 395.44 289.02 395.57 287.52 395.7 286.02 395.85 284.52 396 283.02 396.15 281.52 396.32 280.02 396.49 278.52 396.67 277.03 396.85 275.53 397.05 274.04 397.25 272.55 397.46 271.06 397.68 269.57 397.91 268.08 398.15 266.6 398.39 265.12 398.65 263.63 398.91 262.15 399.18 260.68 399.47 259.2 399.76 257.72 400.06 256.25 400.38 254.78 400.7 253.31 401.03 251.85 401.38 250.39 401.74 248.93 402.1 247.47 402.48 246.02 402.87 244.57 403.28 243.13 403.7 241.7 404.12 240.26 404.57 238.84 405.02 237.42 405.49 236 405.97 234.59 406.47 233.19 406.98 231.79 407.51 230.4 408.05 229.02 408.6 227.65 409.17 226.28 409.76 224.92 410.36 223.57 410.98 222.23 411.61 220.9 412.26 219.57 412.92 218.26 413.6 216.95 414.29 215.65 414.99 214.35 415.71 213.07 416.45 211.79 417.19 210.52 417.95 209.25 418.73 207.99 419.51 206.74 420.31 205.5 421.12 204.26 421.95 203.03 422.78 201.81 423.63 200.6 424.48 199.39 425.35 198.18 426.23 196.98 427.12 195.79 428.02 194.61 428.93 193.43 429.85 192.25 430.78 191.09 431.72 189.92 432.66 188.77 433.62 187.61 434.59 186.47 435.56 185.33 436.54 184.19 437.53 183.06 438.53 181.93 439.53 180.81 440.54 179.69 441.56 178.58 442.59 177.47 443.62 176.37 444.66 175.27 445.7 174.17 446.75 173.08 447.8 171.99 448.86 170.91 449.93 169.83 451 168.75 452.07 167.67 453.15 166.6 454.23 165.54 455.32 164.47 456.4 163.41 457.5 162.35 458.59 161.3 459.69 160.24 460.79 159.19 461.89 158.15 463 157.1 464.1 156.06 465.21 155.02 466.32 153.98 467.43 152.94 468.54 151.9 469.65 150.87 470.77 149.84 471.88 148.81 472.99 147.78 474.1 146.75 475.22 145.73 476.33 144.7 477.44 143.68 478.56 142.65 479.67 141.63 480.79 140.61 481.9 139.59 483.01 138.58 484.13 137.56 485.24 136.54 486.35 135.52 487.47 134.51 488.58 133.49 489.69 132.48 490.81 131.47 491.92 130.45 493.03 129.44 494.14 128.43 495.25 127.41 496.37 126.4 497.48 125.39 498.59 124.37 499.7 123.36 500.8 122.35 501.91 121.34 503.02 120.32 504.13 119.31 505.23 118.29 506.34 117.28 507.44 116.26 508.55 115.25 509.65 114.23 510.75 113.21 511.85 112.2 512.95 111.18 514.05 110.16 515.15 109.14 516.25 108.12 517.34 107.09 518.44 106.07 519.53 105.04 520.63 104.02 521.72 102.99 522.81 101.96 523.9 100.93 524.98 99.89 526.07 98.86 527.15 97.82 528.24 96.79 529.32 95.75 530.4 94.71 531.48 93.66 532.56 92.62 533.63 91.57 534.7 90.52 535.78 89.47 536.85 88.41 537.92 87.36 538.98 86.3 540.05 85.23 541.11 84.17 542.17 83.1 543.23 82.03 544.29 80.96 545.35 79.89 546.41 78.82 547.46 77.74 548.52 76.67 549.57 75.59 550.62 74.51 551.68 73.43 552.73 72.36 553.79 71.28 554.84 70.2 555.9 69.13 556.96 68.05 558.02 66.98 559.07 65.9 560.14 64.83 561.2 63.76 562.26 62.69 563.33 61.63 564.4 60.57 565.47 59.51 566.54 58.45 567.62 57.4 568.7 56.35 569.78 55.3 570.87 54.26 571.96 53.23 573.05 52.19 574.15 51.17 575.25 50.14 576.36 49.13 577.47 48.11 578.59 47.11 579.71 46.11 580.83 45.11 581.97 44.13 583.1 43.14 584.24 42.17 585.39 41.2 586.55 40.24 587.71 39.29 588.87 38.35 590.05 37.41 591.23 36.49 592.42 35.57 593.61 34.66 594.81 33.76 596.02 32.86 597.24 31.98 598.47 31.11 599.7 30.25 600.94 29.4 602.19 28.56 603.45 27.73 604.72 26.91 606 26.1" stroke="#808000" stroke-width="3.7" fill="none" stroke-linejoin="round" stroke-linecap="butt"/>
<path d="M143 107.3 144.38 107.82 145.75 108.34 147.13 108.86 148.52 109.37 149.91 109.88 151.3 110.38 152.7 110.88 154.1 111.37 155.5 111.86 156.91 112.35 158.32 112.83 159.73 113.31 161.15 113.79 162.57 114.26 163.99 114.73 165.41 115.2 166.84 115.67 168.27 116.13 169.7 116.59 171.14 117.05 172.57 117.5 174.01 117.96 175.45 118.41 176.9 118.86 178.34 119.31 179.79 119.75 181.24 120.2 182.69 120.64 184.14 121.08 185.59 121.52 187.05 121.96 188.51 122.4 189.96 122.84 191.42 123.28 192.88 123.71 194.34 124.15 195.8 124.59 197.27 125.02 198.73 125.46 200.19 125.9 201.66 126.33 203.12 126.77 204.59 127.21 206.06 127.65 207.52 128.09 208.99 128.53 210.45 128.97 211.92 129.41 213.38 129.85 214.85 130.3 216.32 130.75 217.78 131.19 219.24 131.64 220.71 132.1 222.17 132.55 223.63 133 225.09 133.46 226.55 133.92 228.01 134.39 229.47 134.85 230.93 135.32 232.38 135.79 233.84 136.27 235.29 136.74 236.74 137.23 238.19 137.71 239.64 138.2 241.08 138.69 242.53 139.18 243.97 139.68 245.41 140.19 246.85 140.69 248.28 141.21 249.72 141.72 251.15 142.24 252.57 142.77 254 143.3 255.42 143.83 256.84 144.37 258.26 144.92 259.67 145.47 261.08 146.03 262.49 146.59 263.89 147.15 265.29 147.73 266.69 148.31 268.09 148.89 269.48 149.48 270.86 150.08 272.25 150.68 273.62 151.29 275 151.91 276.37 152.54 277.74 153.17 279.1 153.8 280.46 154.45 281.81 155.1 283.16 155.76 284.5 156.43 285.84 157.1 287.18 157.79 288.51 158.48 289.84 159.18 291.16 159.88 292.47 160.6 293.78 161.32 295.09 162.05 296.39 162.8 297.68 163.55 298.97 164.3 300.25 165.07 301.53 165.85 302.8 166.64 304.06 167.43 305.32 168.24 306.58 169.05 307.82 169.88 309.06 170.71 310.3 171.56 311.53 172.41 312.75 173.28 313.96 174.15 315.17 175.04 316.37 175.94 317.56 176.84 318.75 177.76 319.93 178.69 321.11 179.63 322.27 180.59 323.43 181.55 324.58 182.53 325.72 183.51 326.86 184.51 327.99 185.52 329.11 186.55 330.22 187.58 331.32 188.63 332.41 189.68 333.49 190.75 334.56 191.83 335.62 192.92 336.66 194.03 337.7 195.14 338.72 196.26 339.73 197.4 340.73 198.55 341.71 199.7 342.67 200.87 343.63 202.05 344.56 203.24 345.48 204.44 346.39 205.66 347.28 206.88 348.15 208.11 349 209.35 349.84 210.61 350.65 211.87 351.45 213.14 352.23 214.43 352.99 215.72 353.73 217.02 354.44 218.34 355.14 219.66 355.81 221 356.47 222.34 357.1 223.69 357.7 225.06 358.29 226.43 358.85 227.81 359.38 229.2 359.89 230.6 360.38 232.01 360.83 233.43 361.27 234.86 361.67 236.3 362.05 237.74 362.41 239.2 362.73 240.66 363.04 242.13 363.32 243.61 363.59 245.09 363.83 246.59 364.05 248.08 364.25 249.58 364.44 251.09 364.61 252.6 364.76 254.12 364.9 255.64 365.03 257.17 365.14 258.69 365.24 260.22 365.34 261.75 365.42 263.29 365.49 264.82 365.56 266.36 365.62 267.89 365.68 269.43 365.73 270.97 365.78 272.5 365.83 274.03 365.87 275.57 365.92 277.1 365.96 278.62 366.01 280.15 366.06 281.67 366.12 283.19 366.18 284.7 366.25 286.21 366.32 287.71 366.4 289.21 366.49 290.7 366.59 292.19 366.7 293.67 366.81 295.15 366.93 296.62 367.06 298.09 367.18 299.56 367.31 301.03 367.45 302.49 367.58 303.96 367.71 305.43 367.84 306.89 367.96 308.36 368.08 309.84 368.2 311.31 368.31 312.8 368.41 314.28 368.5 315.77 368.59 317.27 368.66 318.77 368.72 320.29 368.77 321.81 368.8 323.34 368.81 324.88 368.81 326.43 368.8 327.99 368.76 329.57 368.7 331.15 368.62 332.75 368.52 334.37 368.4 336 368.45 334.49 368.49 332.99 368.53 331.48 368.57 329.97 368.61 328.46 368.64 326.96 368.68 325.45 368.71 323.94 368.74 322.43 368.78 320.92 368.81 319.41 368.84 317.9 368.87 316.39 368.9 314.88 368.93 313.37 368.97 311.86 369 310.35 369.04 308.84 369.08 307.33 369.11 305.82 369.16 304.31 369.2 302.8 369.25 301.29 369.3 299.78 369.35 298.27 369.4 296.76 369.46 295.25 369.53 293.74 369.59 292.24 369.67 290.73 369.74 289.22 369.82 287.71 369.91 286.21 370 284.7 370.1 283.2 370.2 281.69 370.31 280.19 370.43 278.68 370.55 277.18 370.68 275.68 370.82 274.18 370.96 272.68 371.12 271.18 371.27 269.68 371.44 268.18 371.62 266.68 371.8 265.18 372 263.69 372.2 262.19 372.41 260.7 372.63 259.21 372.87 257.71 373.11 256.22 373.36 254.73 373.62 253.24 373.9 251.76 374.18 250.27 374.48 248.78 374.79 247.3 375.11 245.82 375.44 244.34 375.78 242.86 376.14 241.38 376.5 239.91 376.88 238.44 377.27 236.97 377.67 235.5 378.09 234.04 378.51 232.58 378.95 231.13 379.4 229.68 379.86 228.23 380.34 226.79 380.82 225.35 381.32 223.92 381.84 222.49 382.36 221.06 382.9 219.65 383.45 218.23 384.01 216.83 384.58 215.43 385.17 214.03 385.77 212.65 386.39 211.26 387.01 209.89 387.65 208.52 388.3 207.16 388.97 205.81 389.65 204.46 390.34 203.13 391.05 201.8 391.76 200.48 392.5 199.17 393.24 197.86 394 196.57 394.77 195.28 395.56 194 396.35 192.73 397.16 191.47 397.99 190.22 398.82 188.98 399.67 187.74 400.52 186.51 401.39 185.3 402.27 184.08 403.17 182.88 404.07 181.69 404.98 180.5 405.9 179.32 406.84 178.15 407.78 176.98 408.74 175.82 409.7 174.67 410.67 173.53 411.66 172.4 412.65 171.27 413.65 170.15 414.66 169.04 415.67 167.93 416.7 166.83 417.73 165.74 418.77 164.66 419.82 163.58 420.88 162.51 421.94 161.44 423.02 160.38 424.09 159.33 425.18 158.29 426.27 157.25 427.37 156.21 428.47 155.19 429.58 154.17 430.69 153.15 431.81 152.14 432.94 151.13 434.07 150.13 435.2 149.13 436.34 148.14 437.48 147.15 438.62 146.17 439.77 145.18 440.92 144.21 442.08 143.23 443.23 142.26 444.39 141.29 445.55 140.32 446.72 139.35 447.88 138.38 449.05 137.42 450.21 136.46 451.38 135.5 452.55 134.54 453.72 133.57 454.88 132.61 456.05 131.65 457.22 130.69 458.39 129.73 459.55 128.77 460.71 127.8 461.88 126.84 463.04 125.87 464.2 124.91 465.35 123.94 466.51 122.97 467.66 121.99 468.82 121.02 469.97 120.05 471.12 119.08 472.27 118.1 473.42 117.13 474.57 116.16 475.73 115.19 476.88 114.22 478.03 113.25 479.18 112.28 480.33 111.31 481.49 110.34 482.64 109.38 483.8 108.42 484.96 107.45 486.12 106.5 487.28 105.54 488.44 104.59 489.61 103.64 490.78 102.69 491.95 101.75 493.12 100.81 494.3 99.87 495.48 98.94 496.66 98.01 497.85 97.09 499.04 96.17 500.23 95.25 501.43 94.34 502.63 93.43 503.83 92.53 505.04 91.63 506.25 90.73 507.46 89.84 508.68 88.95 509.9 88.07 511.12 87.19 512.34 86.31 513.57 85.44 514.8 84.57 516.04 83.7 517.27 82.84 518.51 81.99 519.76 81.13 521 80.28 522.25 79.43 523.5 78.59 524.76 77.75 526.02 76.91 527.28 76.08 528.54 75.25 529.81 74.43 531.07 73.6 532.34 72.78 533.62 71.97 534.89 71.16 536.17 70.35 537.45 69.54 538.73 68.74 540.02 67.94 541.3 67.14 542.59 66.35 543.88 65.56 545.18 64.77 546.47 63.99 547.77 63.21 549.07 62.43 550.37 61.66 551.67 60.89 552.97 60.12 554.28 59.36 555.58 58.59 556.89 57.83 558.2 57.08 559.51 56.33 560.83 55.58 562.14 54.83 563.46 54.09 564.77 53.35 566.09 52.62 567.41 51.88 568.73 51.16 570.06 50.43 571.38 49.71 572.71 49 574.04 48.28 575.37 47.58 576.7 46.87 578.03 46.17 579.36 45.48 580.7 44.79 582.04 44.1 583.38 43.42 584.72 42.74 586.06 42.07 587.4 41.4" stroke="#800040" stroke-width="3.7" fill="none" stroke-linejoin="round" stroke-linecap="butt"/>
<path d="M97.5 407.6v-3.2M97.5 8.2v3.2M106.4 407.6v-3.2M106.4 8.2v3.2M115.3 407.6v-3.2M115.3 8.2v3.2M124.2 407.6v-3.2M124.2 8.2v3.2M133.1 407.6v-7.5M133.1 8.2v7.5M142 407.6v-3.2M142 8.2v3.2M150.9 407.6v-3.2M150.9 8.2v3.2M159.8 407.6v-3.2M159.8 8.2v3.2M168.7 407.6v-3.2M168.7 8.2v3.2M177.6 407.6v-3.2M177.6 8.2v3.2M186.5 407.6v-3.2M186.5 8.2v3.2M195.4 407.6v-3.2M195.4 8.2v3.2M204.3 407.6v-3.2M204.3 8.2v3.2M213.2 407.6v-3.2M213.2 8.2v3.2M222.1 407.6v-7.5M222.1 8.2v7.5M231 407.6v-3.2M231 8.2v3.2M239.9 407.6v-3.2M239.9 8.2v3.2M248.8 407.6v-3.2M248.8 8.2v3.2M257.7 407.6v-3.2M257.7 8.2v3.2M266.6 407.6v-3.2M266.6 8.2v3.2M275.5 407.6v-3.2M275.5 8.2v3.2M284.4 407.6v-3.2M284.4 8.2v3.2M293.3 407.6v-3.2M293.3 8.2v3.2M302.2 407.6v-3.2M302.2 8.2v3.2M311.1 407.6v-7.5M311.1 8.2v7.5M320 407.6v-3.2M320 8.2v3.2M328.9 407.6v-3.2M328.9 8.2v3.2M337.8 407.6v-3.2M337.8 8.2v3.2M346.7 407.6v-3.2M346.7 8.2v3.2M355.6 407.6v-3.2M355.6 8.2v3.2M364.5 407.6v-3.2M364.5 8.2v3.2M373.4 407.6v-3.2M373.4 8.2v3.2M382.3 407.6v-3.2M382.3 8.2v3.2M391.2 407.6v-3.2M391.2 8.2v3.2M400.1 407.6v-7.5M400.1 8.2v7.5M409 407.6v-3.2M409 8.2v3.2M417.9 407.6v-3.2M417.9 8.2v3.2M426.8 407.6v-3.2M426.8 8.2v3.2M435.7 407.6v-3.2M435.7 8.2v3.2M444.6 407.6v-3.2M444.6 8.2v3.2M453.5 407.6v-3.2M453.5 8.2v3.2M462.4 407.6v-3.2M462.4 8.2v3.2M471.3 407.6v-3.2M471.3 8.2v3.2M480.2 407.6v-3.2M480.2 8.2v3.2M489.1 407.6v-7.5M489.1 8.2v7.5M498 407.6v-3.2M498 8.2v3.2M506.9 407.6v-3.2M506.9 8.2v3.2M515.8 407.6v-3.2M515.8 8.2v3.2M524.7 407.6v-3.2M524.7 8.2v3.2M533.6 407.6v-3.2M533.6 8.2v3.2M542.5 407.6v-3.2M542.5 8.2v3.2M551.4 407.6v-3.2M551.4 8.2v3.2M560.3 407.6v-3.2M560.3 8.2v3.2M569.2 407.6v-3.2M569.2 8.2v3.2M578.1 407.6v-7.5M578.1 8.2v7.5M587 407.6v-3.2M587 8.2v3.2M595.9 407.6v-3.2M595.9 8.2v3.2M604.8 407.6v-3.2M604.8 8.2v3.2M613.7 407.6v-3.2M613.7 8.2v3.2M622.6 407.6v-3.2M622.6 8.2v3.2M631.5 407.6v-3.2M631.5 8.2v3.2M640.4 407.6v-3.2M640.4 8.2v3.2M649.3 407.6v-3.2M649.3 8.2v3.2M88.3 403.63h3.2M654.2 403.63h-3.2M88.3 397.73h3.2M654.2 397.73h-3.2M88.3 392.74h3.2M654.2 392.74h-3.2M88.3 388.42h3.2M654.2 388.42h-3.2M88.3 384.61h3.2M654.2 384.61h-3.2M88.3 381.2h7.5M654.2 381.2h-7.5M88.3 358.77h3.2M654.2 358.77h-3.2M88.3 345.65h3.2M654.2 345.65h-3.2M88.3 336.35h3.2M654.2 336.35h-3.2M88.3 329.13h3.2M654.2 329.13h-3.2M88.3 323.23h3.2M654.2 323.23h-3.2M88.3 318.24h3.2M654.2 318.24h-3.2M88.3 313.92h3.2M654.2 313.92h-3.2M88.3 310.11h3.2M654.2 310.11h-3.2M88.3 306.7h7.5M654.2 306.7h-7.5M88.3 284.27h3.2M654.2 284.27h-3.2M88.3 271.15h3.2M654.2 271.15h-3.2M88.3 261.85h3.2M654.2 261.85h-3.2M88.3 254.63h3.2M654.2 254.63h-3.2M88.3 248.73h3.2M654.2 248.73h-3.2M88.3 243.74h3.2M654.2 243.74h-3.2M88.3 239.42h3.2M654.2 239.42h-3.2M88.3 235.61h3.2M654.2 235.61h-3.2M88.3 232.2h7.5M654.2 232.2h-7.5M88.3 209.77h3.2M654.2 209.77h-3.2M88.3 196.65h3.2M654.2 196.65h-3.2M88.3 187.35h3.2M654.2 187.35h-3.2M88.3 180.13h3.2M654.2 180.13h-3.2M88.3 174.23h3.2M654.2 174.23h-3.2M88.3 169.24h3.2M654.2 169.24h-3.2M88.3 164.92h3.2M654.2 164.92h-3.2M88.3 161.11h3.2M654.2 161.11h-3.2M88.3 157.7h7.5M654.2 157.7h-7.5M88.3 135.27h3.2M654.2 135.27h-3.2M88.3 122.15h3.2M654.2 122.15h-3.2M88.3 112.85h3.2M654.2 112.85h-3.2M88.3 105.63h3.2M654.2 105.63h-3.2M88.3 99.73h3.2M654.2 99.73h-3.2M88.3 94.74h3.2M654.2 94.74h-3.2M88.3 90.42h3.2M654.2 90.42h-3.2M88.3 86.61h3.2M654.2 86.61h-3.2M88.3 83.2h7.5M654.2 83.2h-7.5M88.3 60.77h3.2M654.2 60.77h-3.2M88.3 47.65h3.2M654.2 47.65h-3.2M88.3 38.35h3.2M654.2 38.35h-3.2M88.3 31.13h3.2M654.2 31.13h-3.2M88.3 25.23h3.2M654.2 25.23h-3.2M88.3 20.24h3.2M654.2 20.24h-3.2M88.3 15.92h3.2M654.2 15.92h-3.2M88.3 12.11h3.2M654.2 12.11h-3.2M88.3 8.7h7.5M654.2 8.7h-7.5" stroke="#000" stroke-width="1.5" fill="none"/>
<rect x="88.3" y="8.2" width="565.9" height="399.4" fill="none" stroke="#000" stroke-width="1.8"/>
<text x="78.8" y="15.7" text-anchor="end" class="tl">0.1</text>
<text x="78.8" y="90.2" text-anchor="end" class="tl">0.01</text>
<text x="78.8" y="164.7" text-anchor="end" class="tl">0.001</text>
<text x="78.8" y="239.2" text-anchor="end" class="tl">0.0001</text>
<text x="78.8" y="313.7" text-anchor="end" class="tl">1E-5</text>
<text x="78.8" y="388.2" text-anchor="end" class="tl">1E-6</text>
<text x="131.9" y="428.6" text-anchor="middle" class="tl">-0.7</text>
<text x="220.9" y="428.6" text-anchor="middle" class="tl">-0.6</text>
<text x="309.9" y="428.6" text-anchor="middle" class="tl">-0.5</text>
<text x="398.9" y="428.6" text-anchor="middle" class="tl">-0.4</text>
<text x="487.9" y="428.6" text-anchor="middle" class="tl">-0.3</text>
<text x="576.9" y="428.6" text-anchor="middle" class="tl">-0.2</text>
<text x="337" y="452.3" class="at" text-anchor="middle">E / (V vs. Ag/AgCl)</text>
<text transform="translate(17 220) rotate(-90)" class="yt" text-anchor="middle">log i / (A cm<tspan dy="-7" font-size="12.5">2</tspan><tspan dy="7">)</tspan></text>
<text x="347.1" y="39" class="pl" text-anchor="middle">(a)</text>
<line x1="532.1" y1="261" x2="556" y2="261" stroke="#000000" stroke-width="3.5"/>
<text x="566" y="269.3" class="lg" word-spacing="2">1 M HCl</text>
<line x1="532.1" y1="281.1" x2="556" y2="281.1" stroke="#ff0000" stroke-width="3.5"/>
<text x="566" y="289.4" class="lg">100 ppm</text>
<line x1="532.1" y1="301.7" x2="556" y2="301.7" stroke="#008000" stroke-width="3.5"/>
<text x="566" y="310" class="lg">200 ppm</text>
<line x1="532.1" y1="321.5" x2="556" y2="321.5" stroke="#0000ff" stroke-width="3.5"/>
<text x="566" y="329.8" class="lg">300 ppm</text>
<line x1="532.1" y1="342" x2="556" y2="342" stroke="#ff8000" stroke-width="3.5"/>
<text x="566" y="350.3" class="lg">400 ppm</text>
<line x1="532.1" y1="362.4" x2="556" y2="362.4" stroke="#808000" stroke-width="3.5"/>
<text x="566" y="370.7" class="lg">500 ppm</text>
<line x1="532.1" y1="382.4" x2="556" y2="382.4" stroke="#800040" stroke-width="3.5"/>
<text x="566" y="390.7" class="lg">600 ppm</text>
<path d="M143.2 546.8 144.65 547.26 146.1 547.71 147.55 548.15 149 548.59 150.45 549.02 151.91 549.45 153.37 549.87 154.82 550.29 156.28 550.7 157.74 551.11 159.2 551.52 160.66 551.92 162.13 552.31 163.59 552.71 165.05 553.09 166.52 553.48 167.98 553.86 169.45 554.24 170.92 554.61 172.39 554.98 173.86 555.35 175.32 555.72 176.79 556.08 178.26 556.44 179.73 556.8 181.21 557.16 182.68 557.51 184.15 557.87 185.62 558.22 187.09 558.57 188.56 558.92 190.04 559.26 191.51 559.61 192.98 559.96 194.45 560.3 195.92 560.65 197.39 560.99 198.87 561.34 200.34 561.68 201.81 562.03 203.28 562.37 204.75 562.72 206.22 563.06 207.69 563.41 209.16 563.76 210.62 564.11 212.09 564.46 213.56 564.81 215.02 565.16 216.49 565.52 217.95 565.87 219.42 566.23 220.88 566.59 222.34 566.96 223.8 567.32 225.26 567.69 226.72 568.07 228.18 568.44 229.63 568.82 231.09 569.2 232.54 569.59 234 569.97 235.45 570.37 236.9 570.76 238.34 571.16 239.79 571.57 241.24 571.98 242.68 572.39 244.12 572.81 245.56 573.23 247 573.66 248.44 574.1 249.87 574.54 251.3 574.98 252.73 575.43 254.16 575.89 255.59 576.35 257.01 576.82 258.44 577.29 259.86 577.78 261.28 578.26 262.69 578.76 264.1 579.26 265.52 579.77 266.92 580.29 268.33 580.81 269.73 581.34 271.14 581.88 272.54 582.43 273.93 582.99 275.32 583.55 276.72 584.12 278.1 584.7 279.49 585.29 280.87 585.89 282.25 586.5 283.63 587.12 285 587.74 286.37 588.38 287.74 589.02 289.1 589.68 290.46 590.34 291.82 591.02 293.17 591.71 294.52 592.4 295.87 593.11 297.22 593.82 298.56 594.55 299.9 595.28 301.23 596.02 302.56 596.77 303.89 597.53 305.22 598.29 306.54 599.06 307.86 599.84 309.17 600.63 310.49 601.42 311.79 602.22 313.1 603.02 314.4 603.83 315.7 604.64 317 605.46 318.3 606.29 319.59 607.11 320.87 607.95 322.16 608.78 323.44 609.62 324.72 610.46 326 611.3 327.27 612.15 328.53 613 329.79 613.86 331.03 614.73 332.26 615.62 333.48 616.51 334.67 617.43 335.85 618.36 337 619.32 338.12 620.29 339.22 621.29 340.29 622.31 341.34 623.36 342.37 624.42 343.36 625.5 344.34 626.61 345.29 627.73 346.22 628.87 347.12 630.03 348 631.21 348.86 632.41 349.69 633.62 350.51 634.85 351.3 636.09 352.07 637.36 352.81 638.63 353.54 639.92 354.24 641.23 354.92 642.55 355.58 643.88 356.23 645.22 356.85 646.58 357.45 647.95 358.03 649.33 358.59 650.72 359.13 652.12 359.66 653.53 360.16 654.95 360.65 656.37 361.12 657.81 361.57 659.26 362 660.71 362.41 662.17 362.81 663.63 363.19 665.1 363.55 666.58 363.9 668.06 364.23 669.55 364.55 671.04 364.85 672.53 365.13 674.03 365.4 675.53 365.65 677.03 365.89 678.53 366.11 680.04 366.32 681.55 366.52 683.05 366.7 684.56 366.87 686.06 367.03 687.57 367.18 689.08 367.31 690.59 367.43 692.1 367.55 693.61 367.65 695.12 367.75 696.63 367.83 698.14 367.91 699.65 367.98 701.16 368.04 702.67 368.09 704.18 368.14 705.69 368.19 707.2 368.22 708.72 368.26 710.23 368.29 711.74 368.31 713.25 368.33 714.77 368.35 716.28 368.37 717.79 368.38 719.3 368.4 720.81 368.41 722.33 368.42 723.84 368.44 725.35 368.45 726.86 368.46 728.37 368.48 729.89 368.5 731.4 368.52 732.91 368.55 734.42 368.58 735.93 368.61 737.44 368.65 738.95 368.69 740.46 368.74 741.97 368.79 743.48 368.85 744.98 368.92 746.49 369 748 369.12 746.5 369.24 745 369.35 743.5 369.45 742 369.55 740.5 369.64 738.99 369.73 737.49 369.81 735.98 369.89 734.48 369.97 732.97 370.04 731.46 370.11 729.96 370.18 728.45 370.25 726.94 370.32 725.43 370.38 723.92 370.45 722.4 370.51 720.89 370.58 719.38 370.64 717.87 370.71 716.36 370.78 714.84 370.85 713.33 370.92 711.82 371 710.31 371.08 708.79 371.16 707.28 371.25 705.77 371.34 704.26 371.43 702.75 371.53 701.23 371.64 699.72 371.75 698.21 371.87 696.7 372 695.19 372.13 693.69 372.28 692.18 372.43 690.67 372.58 689.17 372.75 687.66 372.93 686.16 373.12 684.65 373.31 683.15 373.52 681.65 373.74 680.15 373.97 678.65 374.21 677.15 374.47 675.66 374.73 674.16 375.01 672.67 375.31 671.18 375.62 669.69 375.94 668.21 376.27 666.72 376.62 665.25 376.99 663.78 377.37 662.31 377.76 660.85 378.18 659.39 378.61 657.94 379.05 656.5 379.51 655.06 379.99 653.63 380.49 652.21 381 650.8 381.54 649.4 382.09 648 382.66 646.62 383.25 645.25 383.86 643.88 384.49 642.53 385.14 641.19 385.81 639.86 386.5 638.55 387.21 637.24 387.94 635.95 388.69 634.68 389.47 633.41 390.26 632.16 391.08 630.92 391.91 629.7 392.76 628.48 393.63 627.28 394.52 626.09 395.42 624.91 396.34 623.75 397.28 622.59 398.24 621.45 399.21 620.32 400.19 619.2 401.19 618.09 402.21 616.99 403.24 615.91 404.28 614.83 405.34 613.76 406.41 612.71 407.49 611.67 408.58 610.63 409.69 609.61 410.8 608.6 411.93 607.59 413.07 606.6 414.21 605.62 415.37 604.65 416.54 603.68 417.71 602.73 418.89 601.78 420.08 600.85 421.28 599.92 422.49 599 423.7 598.09 424.92 597.19 426.14 596.3 427.37 595.42 428.6 594.54 429.84 593.67 431.09 592.82 432.34 591.96 433.59 591.12 434.85 590.28 436.11 589.45 437.38 588.63 438.65 587.81 439.92 587.01 441.2 586.2 442.49 585.41 443.77 584.62 445.07 583.83 446.36 583.05 447.66 582.28 448.96 581.51 450.26 580.74 451.57 579.98 452.88 579.23 454.19 578.48 455.51 577.74 456.83 576.99 458.15 576.26 459.47 575.52 460.79 574.79 462.12 574.06 463.45 573.34 464.78 572.62 466.11 571.9 467.45 571.18 468.78 570.47 470.12 569.76 471.45 569.05 472.79 568.34 474.13 567.64 475.47 566.93 476.81 566.23 478.15 565.53 479.5 564.82 480.84 564.12 482.18 563.42 483.52 562.72 484.87 562.02 486.21 561.32 487.55 560.62 488.89 559.92 490.23 559.22 491.57 558.52 492.91 557.81 494.25 557.11 495.59 556.4 496.92 555.69 498.26 554.98 499.59 554.27 500.92 553.56 502.25 552.84 503.58 552.12 504.91 551.4 506.24 550.68 507.56 549.95 508.88 549.22 510.21 548.5 511.53 547.77 512.85 547.04 514.17 546.31 515.49 545.58 516.81 544.86 518.13 544.13 519.45 543.4 520.77 542.68 522.09 541.95 523.41 541.23 524.73 540.51 526.05 539.79 527.37 539.08 528.7 538.36 530.02 537.65 531.35 536.94 532.68 536.24 534 535.54 535.33 534.85 536.67 534.16 538 533.47 539.34 532.79 540.67 532.11 542.02 531.44 543.36 530.77 544.7 530.12 546.05 529.46 547.4 528.82 548.76 528.18 550.12 527.54 551.48 526.92 552.84 526.3 554.21 525.69 555.58 525.09 556.96 524.5 558.34 523.91 559.72 523.34 561.11 522.77 562.5 522.21 563.9 521.67 565.3 521.13 566.7 520.6 568.11 520.09 569.53 519.58 570.95 519.08 572.38 518.6 573.81 518.12 575.24 517.66 576.68 517.21 578.12 516.77 579.57 516.34 581.03 515.92 582.49 515.51 583.95 515.11 585.42 514.73 586.89 514.36 588.37 513.99 589.85 513.65 591.34 513.31 592.84 512.98 594.33 512.67 595.84 512.37 597.35 512.09 598.86 511.81 600.38 511.55 601.9 511.3" stroke="#000000" stroke-width="3.7" fill="none" stroke-linejoin="round" stroke-linecap="butt"/>
<path d="M146.8 552.1 148.24 552.58 149.68 553.05 151.12 553.52 152.56 553.98 154.01 554.44 155.45 554.89 156.9 555.33 158.35 555.77 159.8 556.2 161.25 556.63 162.7 557.06 164.16 557.48 165.61 557.89 167.07 558.3 168.53 558.71 169.98 559.11 171.44 559.51 172.9 559.9 174.36 560.3 175.83 560.68 177.29 561.07 178.75 561.45 180.22 561.83 181.68 562.21 183.15 562.58 184.61 562.95 186.08 563.32 187.55 563.69 189.01 564.05 190.48 564.41 191.95 564.77 193.42 565.13 194.89 565.49 196.35 565.85 197.82 566.21 199.29 566.56 200.76 566.91 202.23 567.27 203.7 567.62 205.17 567.97 206.64 568.33 208.1 568.68 209.57 569.03 211.04 569.39 212.51 569.74 213.97 570.09 215.44 570.45 216.91 570.81 218.37 571.16 219.84 571.52 221.3 571.88 222.77 572.24 224.23 572.61 225.69 572.97 227.16 573.34 228.62 573.71 230.08 574.08 231.54 574.45 232.99 574.83 234.45 575.21 235.91 575.59 237.36 575.98 238.82 576.37 240.27 576.76 241.72 577.16 243.17 577.56 244.62 577.96 246.07 578.37 247.51 578.78 248.96 579.2 250.4 579.62 251.84 580.04 253.28 580.47 254.72 580.91 256.15 581.35 257.59 581.79 259.02 582.25 260.45 582.7 261.88 583.16 263.31 583.63 264.73 584.11 266.16 584.59 267.58 585.08 269 585.57 270.41 586.07 271.83 586.58 273.24 587.09 274.65 587.61 276.06 588.14 277.46 588.68 278.86 589.22 280.26 589.77 281.66 590.33 283.06 590.9 284.45 591.48 285.84 592.06 287.22 592.65 288.61 593.25 289.99 593.86 291.37 594.48 292.74 595.11 294.12 595.75 295.48 596.4 296.85 597.05 298.21 597.72 299.57 598.39 300.93 599.08 302.28 599.77 303.63 600.47 304.97 601.18 306.31 601.9 307.64 602.62 308.98 603.36 310.3 604.11 311.62 604.86 312.94 605.62 314.25 606.39 315.56 607.17 316.86 607.96 318.16 608.76 319.45 609.56 320.73 610.38 322.01 611.2 323.29 612.03 324.56 612.87 325.82 613.72 327.08 614.58 328.33 615.44 329.57 616.31 330.81 617.19 332.04 618.08 333.26 618.98 334.48 619.88 335.69 620.8 336.89 621.72 338.08 622.65 339.27 623.59 340.45 624.54 341.61 625.49 342.76 626.46 343.9 627.45 345.02 628.44 346.12 629.45 347.21 630.47 348.28 631.51 349.33 632.56 350.35 633.62 351.35 634.71 352.33 635.81 353.28 636.93 354.2 638.07 355.1 639.23 355.97 640.41 356.8 641.61 357.6 642.83 358.37 644.07 359.11 645.34 359.81 646.63 360.49 647.93 361.13 649.26 361.75 650.6 362.33 651.96 362.89 653.34 363.43 654.73 363.94 656.14 364.42 657.56 364.88 659 365.32 660.44 365.74 661.9 366.13 663.36 366.51 664.84 366.87 666.32 367.21 667.81 367.54 669.31 367.85 670.81 368.14 672.32 368.42 673.83 368.69 675.35 368.94 676.86 369.19 678.38 369.43 679.9 369.65 681.42 369.87 682.93 370.08 684.45 370.28 685.96 370.47 687.47 370.66 688.99 370.83 690.5 371 692.01 371.17 693.52 371.32 695.03 371.47 696.54 371.61 698.05 371.75 699.56 371.88 701.06 372 702.57 372.12 704.08 372.23 705.58 372.34 707.09 372.44 708.6 372.53 710.1 372.63 711.61 372.71 713.11 372.79 714.62 372.87 716.12 372.94 717.62 373.01 719.13 373.08 720.63 373.14 722.14 373.2 723.64 373.26 725.15 373.31 726.65 373.36 728.16 373.41 729.66 373.45 731.17 373.5 732.67 373.54 734.18 373.58 735.69 373.61 737.19 373.65 738.7 373.68 740.21 373.72 741.72 373.75 743.22 373.78 744.73 373.82 746.24 373.85 747.75 373.88 749.26 373.91 750.78 373.95 752.29 373.98 753.8 374.01 755.32 374.05 756.83 374.08 758.35 374.12 759.86 374.16 761.38 374.2 762.9 374.28 761.43 374.36 759.95 374.43 758.47 374.5 756.99 374.57 755.5 374.63 754.01 374.68 752.51 374.74 751.02 374.79 749.52 374.84 748.01 374.88 746.51 374.93 745 374.97 743.49 375.01 741.98 375.05 740.46 375.09 738.94 375.13 737.42 375.17 735.9 375.21 734.38 375.25 732.86 375.29 731.33 375.33 729.81 375.38 728.28 375.42 726.75 375.47 725.22 375.52 723.7 375.57 722.17 375.63 720.64 375.69 719.11 375.75 717.58 375.82 716.05 375.89 714.52 375.97 712.99 376.05 711.46 376.13 709.94 376.23 708.41 376.32 706.88 376.43 705.36 376.54 703.84 376.66 702.32 376.78 700.8 376.91 699.28 377.05 697.77 377.2 696.25 377.36 694.74 377.52 693.23 377.69 691.73 377.88 690.22 378.07 688.72 378.27 687.23 378.49 685.73 378.71 684.24 378.94 682.75 379.19 681.27 379.45 679.79 379.71 678.31 379.99 676.84 380.29 675.37 380.59 673.91 380.91 672.45 381.25 670.99 381.59 669.54 381.95 668.1 382.33 666.66 382.71 665.22 383.12 663.79 383.54 662.37 383.97 660.95 384.42 659.54 384.89 658.13 385.37 656.73 385.87 655.33 386.39 653.95 386.92 652.56 387.48 651.19 388.05 649.82 388.63 648.46 389.24 647.1 389.86 645.76 390.49 644.42 391.15 643.08 391.82 641.76 392.5 640.44 393.21 639.13 393.93 637.83 394.66 636.53 395.41 635.25 396.18 633.97 396.96 632.7 397.75 631.43 398.56 630.18 399.39 628.93 400.23 627.7 401.08 626.47 401.95 625.25 402.83 624.04 403.73 622.84 404.63 621.65 405.56 620.46 406.49 619.29 407.44 618.13 408.41 616.97 409.38 615.83 410.37 614.69 411.37 613.57 412.38 612.45 413.41 611.35 414.44 610.25 415.49 609.17 416.55 608.09 417.62 607.03 418.7 605.97 419.8 604.93 420.9 603.89 422.01 602.87 423.13 601.85 424.26 600.84 425.4 599.84 426.54 598.85 427.7 597.87 428.86 596.89 430.03 595.92 431.2 594.96 432.39 594.01 433.58 593.07 434.77 592.13 435.97 591.2 437.17 590.27 438.38 589.36 439.6 588.44 440.82 587.54 442.04 586.64 443.27 585.75 444.5 584.86 445.73 583.98 446.97 583.1 448.21 582.23 449.46 581.37 450.71 580.51 451.96 579.65 453.22 578.8 454.48 577.96 455.74 577.12 457 576.28 458.27 575.45 459.54 574.62 460.82 573.8 462.09 572.97 463.37 572.16 464.65 571.34 465.93 570.53 467.22 569.73 468.51 568.92 469.8 568.12 471.09 567.33 472.38 566.53 473.67 565.74 474.97 564.95 476.26 564.16 477.56 563.37 478.86 562.59 480.16 561.81 481.46 561.02 482.76 560.25 484.06 559.47 485.37 558.69 486.67 557.91 487.97 557.14 489.28 556.37 490.58 555.59 491.88 554.82 493.19 554.05 494.49 553.27 495.79 552.5 497.09 551.73 498.4 550.96 499.7 550.18 501 549.41 502.3 548.63 503.59 547.86 504.89 547.08 506.19 546.31 507.49 545.53 508.78 544.75 510.08 543.98 511.37 543.2 512.67 542.43 513.96 541.65 515.25 540.88 516.55 540.1 517.84 539.33 519.14 538.56 520.43 537.79 521.73 537.02 523.02 536.25 524.32 535.49 525.61 534.73 526.91 533.97 528.21 533.21 529.51 532.45 530.81 531.7 532.11 530.95 533.41 530.2 534.72 529.46 536.02 528.71 537.33 527.98 538.64 527.24 539.95 526.51 541.26 525.78 542.57 525.06 543.89 524.34 545.21 523.63 546.53 522.92 547.85 522.22 549.17 521.52 550.5 520.82 551.83 520.13 553.16 519.45 554.49 518.77 555.83 518.09 557.17 517.43 558.51 516.76 559.86 516.11 561.21 515.46 562.56 514.82 563.92 514.18 565.28 513.55 566.64 512.93 568.01 512.31 569.38 511.7 570.75 511.1 572.13 510.51 573.51 509.92 574.89 509.34 576.28 508.77 577.68 508.21 579.08 507.66 580.48 507.11 581.89 506.58 583.3 506.05 584.72 505.53 586.14 505.02 587.57 504.52 589 504.03 590.43 503.55 591.88 503.08 593.32 502.62 594.77 502.17 596.23 501.72 597.7 501.29 599.17 500.87 600.64 500.46 602.12 500.06 603.61 499.68 605.1 499.3" stroke="#ff0080" stroke-width="3.7" fill="none" stroke-linejoin="round" stroke-linecap="butt"/>
<path d="M149.2 580 150.59 580.65 151.97 581.29 153.36 581.93 154.74 582.56 156.13 583.2 157.52 583.82 158.9 584.45 160.29 585.07 161.68 585.69 163.06 586.31 164.45 586.92 165.83 587.53 167.22 588.14 168.61 588.74 169.99 589.34 171.38 589.94 172.77 590.54 174.16 591.13 175.54 591.72 176.93 592.31 178.32 592.9 179.7 593.48 181.09 594.06 182.48 594.64 183.86 595.22 185.25 595.8 186.64 596.37 188.03 596.94 189.41 597.51 190.8 598.08 192.19 598.65 193.58 599.22 194.96 599.78 196.35 600.35 197.74 600.91 199.13 601.47 200.52 602.03 201.9 602.59 203.29 603.15 204.68 603.7 206.07 604.26 207.46 604.82 208.85 605.37 210.24 605.92 211.62 606.48 213.01 607.03 214.4 607.59 215.79 608.14 217.18 608.69 218.57 609.24 219.96 609.8 221.35 610.35 222.74 610.9 224.13 611.45 225.52 612.01 226.91 612.56 228.3 613.11 229.69 613.67 231.08 614.22 232.47 614.78 233.86 615.33 235.25 615.89 236.64 616.45 238.03 617.01 239.42 617.57 240.81 618.13 242.2 618.69 243.59 619.25 244.99 619.81 246.38 620.38 247.77 620.95 249.16 621.52 250.55 622.09 251.94 622.66 253.34 623.23 254.73 623.81 256.12 624.38 257.51 624.96 258.91 625.54 260.3 626.13 261.69 626.71 263.08 627.3 264.48 627.89 265.87 628.48 267.26 629.08 268.66 629.68 270.05 630.28 271.44 630.88 272.84 631.48 274.23 632.09 275.63 632.7 277.02 633.32 278.42 633.94 279.81 634.56 281.21 635.18 282.6 635.81 284 636.44 285.39 637.07 286.79 637.71 288.18 638.35 289.58 639 290.97 639.65 292.37 640.3 293.77 640.95 295.16 641.62 296.55 642.28 297.94 642.96 299.33 643.63 300.71 644.32 302.09 645.01 303.47 645.7 304.84 646.41 306.21 647.12 307.57 647.84 308.92 648.57 310.27 649.3 311.61 650.05 312.94 650.8 314.26 651.56 315.58 652.34 316.88 653.12 318.18 653.91 319.46 654.72 320.73 655.53 322 656.36 323.25 657.2 324.48 658.05 325.71 658.92 326.92 659.79 328.12 660.68 329.3 661.59 330.47 662.5 331.62 663.44 332.76 664.38 333.88 665.34 334.98 666.32 336.07 667.31 337.13 668.32 338.18 669.35 339.21 670.39 340.22 671.45 341.21 672.52 342.18 673.62 343.12 674.73 344.05 675.86 344.95 677.01 345.84 678.17 346.7 679.36 347.54 680.56 348.36 681.77 349.15 683.01 349.93 684.25 350.69 685.52 351.43 686.8 352.15 688.09 352.85 689.39 353.53 690.71 354.19 692.04 354.83 693.38 355.45 694.74 356.06 696.1 356.65 697.48 357.22 698.86 357.77 700.26 358.31 701.66 358.83 703.07 359.33 704.49 359.81 705.92 360.28 707.35 360.74 708.8 361.18 710.24 361.6 711.7 362.01 713.16 362.4 714.62 362.78 716.09 363.14 717.56 363.49 719.03 363.83 720.51 364.15 721.98 364.46 723.46 364.75 724.95 365.04 726.43 365.31 727.92 365.56 729.41 365.81 730.89 366.04 732.39 366.27 733.88 366.48 735.37 366.68 736.87 366.87 738.37 367.05 739.87 367.22 741.37 367.37 742.87 367.52 744.37 367.66 745.87 367.79 747.38 367.92 748.89 368.03 750.39 368.13 751.9 368.23 753.41 368.32 754.92 368.4 756.43 368.47 757.95 368.54 759.46 368.6 760.97 368.65 762.49 368.7 764 368.74 765.52 368.78 767.03 368.81 768.55 368.83 770.07 368.85 771.59 368.87 773.11 368.88 774.62 368.89 776.14 368.89 777.66 368.89 779.18 368.89 780.7 368.88 782.22 368.87 783.74 368.86 785.26 368.84 786.78 368.82 788.3 368.81 789.82 368.79 791.34 368.76 792.86 368.74 794.38 368.72 795.89 368.7 797.41 368.67 798.93 368.65 800.45 368.63 801.96 368.6 803.48 368.58 805 368.56 806.51 368.54 808.02 368.53 809.54 368.51 811.05 368.5 812.56 368.49 814.07 368.48 815.58 368.47 817.09 368.47 818.6 368.47 820.11 368.48 821.61 368.49 823.12 368.5 824.62 368.52 826.12 368.54 827.62 368.57 829.12 368.61 830.62 368.65 832.12 368.69 833.61 368.74 835.11 368.8 836.6 368.88 835.1 368.95 833.6 369.02 832.1 369.08 830.6 369.13 829.1 369.18 827.6 369.23 826.09 369.27 824.59 369.3 823.08 369.34 821.57 369.37 820.06 369.39 818.55 369.41 817.04 369.43 815.52 369.45 814.01 369.46 812.5 369.47 810.98 369.48 809.47 369.49 807.95 369.5 806.43 369.5 804.91 369.5 803.4 369.51 801.88 369.51 800.36 369.51 798.84 369.51 797.32 369.51 795.8 369.51 794.28 369.51 792.76 369.51 791.24 369.51 789.71 369.52 788.19 369.52 786.67 369.53 785.15 369.54 783.63 369.55 782.11 369.56 780.59 369.58 779.07 369.59 777.55 369.62 776.03 369.64 774.51 369.67 773 369.7 771.48 369.74 769.96 369.78 768.44 369.82 766.93 369.87 765.41 369.92 763.9 369.98 762.39 370.05 760.87 370.12 759.36 370.19 757.85 370.28 756.34 370.36 754.83 370.46 753.33 370.56 751.82 370.67 750.32 370.78 748.81 370.91 747.31 371.04 745.81 371.18 744.31 371.33 742.81 371.48 741.31 371.65 739.82 371.82 738.33 372 736.84 372.19 735.35 372.4 733.86 372.61 732.37 372.83 730.89 373.06 729.41 373.3 727.93 373.56 726.45 373.82 724.97 374.09 723.5 374.38 722.03 374.68 720.56 374.99 719.09 375.31 717.62 375.65 716.16 376 714.7 376.36 713.24 376.73 711.79 377.12 710.34 377.52 708.89 377.93 707.44 378.36 706 378.8 704.56 379.26 703.12 379.72 701.69 380.2 700.26 380.7 698.83 381.2 697.41 381.73 695.99 382.26 694.57 382.8 693.16 383.36 691.76 383.94 690.36 384.52 688.96 385.12 687.57 385.73 686.19 386.35 684.81 386.99 683.43 387.63 682.06 388.29 680.7 388.97 679.34 389.65 677.99 390.35 676.65 391.06 675.31 391.78 673.98 392.51 672.65 393.26 671.33 394.02 670.02 394.79 668.72 395.57 667.42 396.36 666.13 397.17 664.85 397.99 663.58 398.82 662.31 399.66 661.06 400.51 659.81 401.37 658.57 402.25 657.34 403.13 656.11 404.03 654.9 404.94 653.69 405.86 652.5 406.79 651.31 407.74 650.13 408.69 648.97 409.65 647.81 410.63 646.66 411.61 645.52 412.61 644.39 413.61 643.27 414.63 642.15 415.65 641.05 416.68 639.95 417.72 638.86 418.77 637.78 419.83 636.7 420.9 635.64 421.97 634.58 423.06 633.52 424.15 632.48 425.24 631.44 426.35 630.41 427.46 629.38 428.57 628.36 429.7 627.35 430.83 626.35 431.96 625.35 433.1 624.35 434.25 623.36 435.4 622.38 436.55 621.4 437.72 620.43 438.88 619.46 440.05 618.5 441.22 617.54 442.4 616.58 443.58 615.64 444.77 614.69 445.95 613.75 447.14 612.81 448.34 611.88 449.53 610.95 450.73 610.02 451.93 609.1 453.13 608.18 454.33 607.26 455.53 606.35 456.74 605.44 457.94 604.53 459.15 603.62 460.35 602.72 461.56 601.81 462.77 600.91 463.97 600.01 465.18 599.12 466.38 598.22 467.58 597.32 468.79 596.43 469.99 595.53 471.19 594.64 472.39 593.75 473.59 592.85 474.79 591.96 475.99 591.06 477.19 590.16 478.38 589.26 479.58 588.36 480.77 587.46 481.96 586.56 483.15 585.65 484.34 584.74 485.52 583.83 486.71 582.91 487.89 581.99 489.07 581.07 490.25 580.14 491.42 579.21 492.6 578.28 493.77 577.33 494.94 576.39 496.1 575.44 497.27 574.48 498.43 573.52 499.59 572.55 500.75 571.58 501.9 570.61 503.06 569.63 504.22 568.65 505.38 567.68 506.54 566.7 507.7 565.73 508.87 564.77 510.05 563.81 511.23 562.86 512.42 561.92 513.62 560.99 514.82 560.07 516.04 559.16 517.26 558.27 518.5 557.4" stroke="#ff0000" stroke-width="3.7" fill="none" stroke-linejoin="round" stroke-linecap="butt"/>
<path d="M158.9 578 160.34 578.47 161.78 578.94 163.21 579.41 164.65 579.89 166.08 580.37 167.51 580.86 168.94 581.35 170.36 581.85 171.79 582.35 173.21 582.85 174.63 583.36 176.05 583.87 177.47 584.39 178.88 584.91 180.3 585.43 181.71 585.96 183.12 586.49 184.53 587.02 185.94 587.56 187.35 588.1 188.75 588.64 190.16 589.19 191.56 589.74 192.96 590.29 194.36 590.85 195.76 591.41 197.16 591.97 198.55 592.53 199.95 593.1 201.34 593.67 202.73 594.24 204.12 594.82 205.52 595.39 206.9 595.97 208.29 596.55 209.68 597.14 211.07 597.72 212.45 598.31 213.84 598.9 215.22 599.49 216.61 600.08 217.99 600.68 219.37 601.28 220.75 601.87 222.13 602.47 223.51 603.08 224.89 603.68 226.27 604.28 227.65 604.89 229.02 605.49 230.4 606.1 231.77 606.71 233.15 607.32 234.53 607.93 235.9 608.54 237.28 609.16 238.65 609.77 240.02 610.38 241.4 611 242.77 611.61 244.14 612.23 245.52 612.84 246.89 613.46 248.26 614.08 249.63 614.69 251.01 615.31 252.38 615.93 253.75 616.54 255.12 617.16 256.5 617.78 257.87 618.39 259.24 619.01 260.61 619.62 261.99 620.24 263.36 620.85 264.73 621.47 266.11 622.08 267.48 622.69 268.86 623.3 270.23 623.92 271.61 624.53 272.98 625.13 274.36 625.74 275.73 626.35 277.11 626.95 278.49 627.56 279.87 628.16 281.25 628.76 282.63 629.36 284.01 629.96 285.39 630.56 286.77 631.15 288.15 631.75 289.53 632.34 290.92 632.93 292.3 633.51 293.69 634.1 295.07 634.69 296.46 635.27 297.84 635.86 299.23 636.44 300.61 637.03 302 637.62 303.39 638.2 304.77 638.79 306.15 639.39 307.54 639.98 308.92 640.58 310.3 641.18 311.68 641.78 313.06 642.39 314.44 643 315.81 643.62 317.19 644.24 318.56 644.87 319.93 645.5 321.3 646.14 322.66 646.78 324.03 647.44 325.39 648.09 326.75 648.76 328.1 649.44 329.45 650.12 330.8 650.81 332.14 651.51 333.48 652.22 334.82 652.94 336.14 653.67 337.47 654.41 338.78 655.16 340.09 655.92 341.39 656.7 342.69 657.48 343.97 658.28 345.25 659.09 346.51 659.91 347.77 660.74 349.02 661.59 350.25 662.45 351.48 663.33 352.69 664.22 353.9 665.12 355.09 666.04 356.26 666.98 357.43 667.93 358.58 668.9 359.71 669.88 360.84 670.88 361.94 671.9 363.03 672.93 364.11 673.98 365.17 675.05 366.21 676.13 367.24 677.23 368.25 678.34 369.24 679.47 370.21 680.62 371.17 681.78 372.11 682.95 373.03 684.14 373.93 685.34 374.81 686.56 375.68 687.79 376.52 689.03 377.34 690.28 378.15 691.55 378.93 692.83 379.69 694.13 380.43 695.43 381.15 696.75 381.85 698.07 382.52 699.41 383.17 700.76 383.8 702.12 384.41 703.49 384.99 704.87 385.56 706.26 386.1 707.65 386.62 709.06 387.12 710.47 387.61 711.89 388.07 713.32 388.51 714.75 388.93 716.19 389.34 717.63 389.72 719.08 390.09 720.53 390.44 721.99 390.78 723.45 391.09 724.92 391.4 726.39 391.68 727.86 391.95 729.34 392.21 730.82 392.45 732.3 392.67 733.79 392.89 735.28 393.09 736.77 393.27 738.26 393.45 739.76 393.61 741.26 393.77 742.76 393.91 744.26 394.04 745.76 394.16 747.27 394.27 748.78 394.38 750.29 394.47 751.8 394.56 753.31 394.64 754.82 394.71 756.33 394.78 757.85 394.84 759.36 394.89 760.87 394.94 762.39 394.98 763.9 395.02 765.41 395.06 766.93 395.09 768.44 395.12 769.95 395.15 771.47 395.17 772.98 395.19 774.49 395.22 775.99 395.24 777.5 395.26 779.01 395.28 780.51 395.3 782.01 395.32 783.51 395.35 785.01 395.38 786.5 395.4 788 395.49 786.5 395.59 785.01 395.68 783.51 395.77 782.01 395.86 780.5 395.95 779 396.04 777.49 396.13 775.98 396.23 774.48 396.32 772.97 396.41 771.45 396.51 769.94 396.61 768.43 396.71 766.91 396.81 765.4 396.92 763.89 397.03 762.37 397.14 760.86 397.26 759.34 397.38 757.83 397.5 756.31 397.63 754.8 397.77 753.28 397.91 751.77 398.06 750.26 398.21 748.75 398.37 747.24 398.53 745.73 398.71 744.22 398.89 742.72 399.08 741.21 399.27 739.71 399.48 738.21 399.69 736.71 399.91 735.22 400.14 733.73 400.38 732.24 400.63 730.75 400.89 729.26 401.17 727.78 401.45 726.3 401.74 724.83 402.05 723.36 402.36 721.89 402.69 720.42 403.03 718.96 403.38 717.5 403.75 716.05 404.13 714.6 404.52 713.16 404.93 711.72 405.35 710.28 405.79 708.85 406.24 707.43 406.71 706.01 407.19 704.59 407.69 703.18 408.2 701.78 408.73 700.38 409.27 698.98 409.82 697.59 410.4 696.21 410.98 694.83 411.58 693.46 412.19 692.09 412.82 690.73 413.46 689.38 414.11 688.02 414.78 686.68 415.46 685.34 416.15 684 416.86 682.68 417.57 681.35 418.3 680.03 419.04 678.72 419.79 677.41 420.55 676.11 421.33 674.82 422.11 673.53 422.91 672.24 423.71 670.97 424.53 669.69 425.35 668.42 426.19 667.16 427.03 665.91 427.89 664.66 428.75 663.41 429.63 662.17 430.51 660.94 431.4 659.71 432.3 658.49 433.2 657.28 434.12 656.07 435.04 654.86 435.97 653.67 436.91 652.47 437.85 651.29 438.8 650.11 439.76 648.93 440.73 647.76 441.7 646.6 442.67 645.44 443.65 644.28 444.64 643.13 445.63 641.98 446.62 640.84 447.62 639.7 448.63 638.57 449.64 637.43 450.65 636.3 451.66 635.18 452.68 634.05 453.7 632.93 454.72 631.81 455.74 630.69 456.77 629.57 457.79 628.46 458.82 627.34 459.85 626.23 460.88 625.12 461.91 624.01 462.93 622.89 463.96 621.78 464.99 620.67 466.02 619.56 467.04 618.44 468.07 617.33 469.09 616.21 470.11 615.1 471.13 613.98 472.14 612.86 473.15 611.74 474.16 610.61 475.17 609.48 476.17 608.35 477.16 607.22 478.16 606.09 479.15 604.95 480.14 603.81 481.13 602.67 482.11 601.53 483.09 600.39 484.08 599.24 485.05 598.1 486.03 596.95 487.01 595.8 487.98 594.65 488.95 593.5 489.93 592.35 490.9 591.2 491.87 590.05 492.84 588.9 493.81 587.75 494.78 586.59 495.75 585.44 496.73 584.29 497.7 583.14 498.67 581.99 499.65 580.84 500.62 579.69 501.6 578.54 502.58 577.39 503.56 576.25 504.54 575.1 505.53 573.96 506.51 572.81 507.5 571.67 508.5 570.53 509.49 569.4 510.49 568.26 511.49 567.13 512.5 566" stroke="#008000" stroke-width="3.7" fill="none" stroke-linejoin="round" stroke-linecap="butt"/>
<path d="M148 588.1 149.4 588.71 150.79 589.31 152.19 589.91 153.59 590.51 154.99 591.1 156.39 591.7 157.78 592.29 159.18 592.88 160.58 593.46 161.98 594.05 163.38 594.63 164.78 595.21 166.18 595.79 167.58 596.36 168.98 596.94 170.38 597.51 171.79 598.08 173.19 598.65 174.59 599.21 175.99 599.78 177.39 600.34 178.8 600.9 180.2 601.46 181.6 602.02 183 602.58 184.41 603.13 185.81 603.69 187.21 604.24 188.62 604.79 190.02 605.34 191.43 605.89 192.83 606.44 194.23 606.99 195.64 607.53 197.04 608.08 198.45 608.62 199.85 609.16 201.26 609.7 202.66 610.25 204.07 610.79 205.47 611.33 206.87 611.86 208.28 612.4 209.68 612.94 211.09 613.48 212.49 614.02 213.9 614.55 215.3 615.09 216.71 615.62 218.11 616.16 219.52 616.7 220.92 617.23 222.33 617.77 223.73 618.3 225.14 618.84 226.54 619.37 227.94 619.91 229.35 620.44 230.75 620.98 232.16 621.51 233.56 622.05 234.97 622.59 236.37 623.12 237.77 623.66 239.18 624.2 240.58 624.74 241.98 625.28 243.39 625.82 244.79 626.36 246.19 626.9 247.59 627.44 249 627.98 250.4 628.53 251.8 629.07 253.2 629.62 254.6 630.16 256 630.71 257.41 631.26 258.81 631.81 260.21 632.36 261.61 632.91 263.01 633.47 264.41 634.02 265.81 634.58 267.2 635.14 268.6 635.7 270 636.26 271.4 636.82 272.8 637.38 274.19 637.95 275.59 638.52 276.99 639.09 278.38 639.66 279.78 640.23 281.18 640.81 282.57 641.39 283.97 641.96 285.36 642.55 286.75 643.13 288.15 643.72 289.54 644.3 290.93 644.9 292.33 645.49 293.72 646.08 295.11 646.68 296.5 647.28 297.89 647.89 299.28 648.49 300.67 649.1 302.06 649.71 303.45 650.32 304.84 650.94 306.22 651.56 307.61 652.18 309 652.81 310.38 653.44 311.77 654.07 313.15 654.7 314.53 655.35 315.91 655.99 317.28 656.64 318.66 657.3 320.02 657.96 321.39 658.64 322.75 659.31 324.11 660 325.46 660.69 326.81 661.39 328.15 662.1 329.48 662.82 330.81 663.55 332.14 664.29 333.45 665.04 334.76 665.79 336.06 666.56 337.35 667.35 338.63 668.14 339.91 668.95 341.18 669.77 342.43 670.6 343.68 671.45 344.91 672.31 346.14 673.18 347.35 674.07 348.56 674.98 349.75 675.9 350.93 676.83 352.1 677.79 353.25 678.75 354.39 679.74 355.52 680.74 356.64 681.75 357.74 682.78 358.83 683.83 359.9 684.89 360.96 685.96 362.01 687.05 363.04 688.15 364.06 689.27 365.06 690.4 366.05 691.54 367.02 692.7 367.97 693.86 368.91 695.04 369.84 696.23 370.74 697.44 371.63 698.65 372.51 699.88 373.36 701.12 374.2 702.37 375.02 703.63 375.83 704.9 376.61 706.18 377.38 707.47 378.13 708.77 378.86 710.08 379.57 711.4 380.27 712.73 380.94 714.07 381.59 715.42 382.23 716.77 382.84 718.13 383.44 719.5 384.01 720.88 384.56 722.27 385.1 723.66 385.61 725.06 386.1 726.46 386.56 727.88 387.01 729.29 387.44 730.72 387.84 732.15 388.23 733.59 388.6 735.03 388.95 736.48 389.28 737.93 389.59 739.39 389.88 740.85 390.16 742.32 390.43 743.79 390.67 745.26 390.9 746.74 391.12 748.23 391.32 749.71 391.51 751.21 391.69 752.7 391.85 754.2 392.01 755.7 392.15 757.2 392.28 758.71 392.4 760.22 392.5 761.73 392.6 763.25 392.69 764.76 392.78 766.28 392.85 767.8 392.92 769.32 392.98 770.85 393.03 772.37 393.08 773.9 393.12 775.42 393.16 776.95 393.19 778.48 393.22 780 393.25 781.53 393.27 783.06 393.29 784.59 393.31 786.11 393.33 787.64 393.34 789.17 393.36 790.69 393.38 792.22 393.39 793.74 393.41 795.26 393.43 796.78 393.46 798.3 393.48 799.82 393.51 801.33 393.55 802.84 393.58 804.35 393.63 805.86 393.67 807.36 393.73 808.86 393.79 810.36 393.85 811.86 393.93 813.35 394.01 814.83 394.1 816.32 394.2 817.8 394.28 816.3 394.37 814.8 394.45 813.3 394.52 811.8 394.6 810.3 394.67 808.79 394.75 807.29 394.82 805.78 394.89 804.27 394.96 802.76 395.03 801.25 395.1 799.74 395.17 798.22 395.24 796.71 395.31 795.2 395.38 793.68 395.45 792.16 395.52 790.65 395.6 789.13 395.67 787.61 395.75 786.1 395.83 784.58 395.91 783.06 396 781.54 396.09 780.03 396.18 778.51 396.27 776.99 396.37 775.48 396.47 773.96 396.58 772.45 396.69 770.93 396.81 769.42 396.93 767.9 397.05 766.39 397.18 764.88 397.32 763.37 397.46 761.86 397.6 760.36 397.76 758.85 397.92 757.34 398.08 755.84 398.26 754.34 398.44 752.84 398.63 751.34 398.82 749.85 399.03 748.35 399.24 746.86 399.46 745.37 399.69 743.88 399.93 742.4 400.18 740.91 400.43 739.43 400.7 737.96 400.97 736.48 401.26 735.01 401.56 733.54 401.86 732.07 402.18 730.61 402.51 729.15 402.85 727.69 403.2 726.24 403.57 724.79 403.94 723.34 404.33 721.89 404.73 720.45 405.14 719.02 405.57 717.59 406.01 716.16 406.46 714.73 406.92 713.31 407.4 711.9 407.9 710.48 408.41 709.08 408.93 707.67 409.47 706.27 410.02 704.88 410.58 703.49 411.16 702.1 411.75 700.72 412.35 699.35 412.97 697.98 413.6 696.61 414.25 695.25 414.9 693.9 415.57 692.55 416.25 691.21 416.95 689.87 417.65 688.54 418.37 687.21 419.1 685.89 419.84 684.57 420.6 683.26 421.36 681.96 422.14 680.66 422.93 679.37 423.73 678.09 424.54 676.81 425.36 675.54 426.19 674.27 427.04 673.02 427.89 671.77 428.75 670.52 429.63 669.28 430.51 668.05 431.41 666.83 432.31 665.61 433.23 664.4 434.15 663.2 435.08 662.01 436.02 660.82 436.98 659.64 437.94 658.47 438.91 657.31 439.88 656.15 440.87 655 441.87 653.86 442.87 652.73 443.88 651.61 444.9 650.49 445.93 649.39 446.97 648.29 448.01 647.2 449.06 646.12 450.12 645.04 451.18 643.98 452.26 642.92 453.33 641.87 454.42 640.83 455.5 639.79 456.6 638.76 457.69 637.73 458.79 636.7 459.9 635.68 461 634.67 462.11 633.65 463.22 632.64 464.33 631.63 465.44 630.62 466.55 629.61 467.66 628.6 468.77 627.59 469.88 626.58 470.99 625.56 472.1 624.55 473.2 623.53 474.3 622.51 475.4 621.48 476.49 620.45 477.58 619.42 478.66 618.38 479.74 617.33 480.81 616.28 481.88 615.22 482.94 614.16 483.99 613.08 485.04 612 486.07 610.9 487.1 609.8 488.12 608.69 489.13 607.57 490.13 606.44 491.13 605.3 492.12 604.16 493.1 603.01 494.08 601.85 495.05 600.68 496.02 599.51 496.98 598.34 497.94 597.16 498.89 595.98 499.84 594.79 500.79 593.61 501.74 592.42 502.68 591.22 503.62 590.03 504.56 588.84 505.5 587.64 506.44 586.45 507.38 585.26 508.32 584.07 509.26 582.88 510.2 581.69 511.15 580.51 512.09 579.33 513.04 578.15 513.99 576.97 514.94 575.8 515.88 574.62 516.84 573.45 517.79 572.28 518.74 571.11 519.69 569.94 520.64 568.77 521.6 567.6 522.55 566.44 523.5 565.27 524.45 564.1 525.41 562.93 526.36 561.76 527.31 560.59 528.26 559.42 529.21 558.25 530.16 557.07 531.11 555.9 532.05 554.72 533 553.54 533.94 552.36 534.88 551.17 535.82 549.98 536.76 548.79 537.7 547.6" stroke="#0000ff" stroke-width="3.7" fill="none" stroke-linejoin="round" stroke-linecap="butt"/>
<path d="M144.4 617.5 145.71 618.2 147.03 618.9 148.35 619.58 149.68 620.26 151.01 620.94 152.35 621.6 153.69 622.26 155.03 622.91 156.38 623.55 157.73 624.19 159.09 624.82 160.44 625.44 161.81 626.06 163.18 626.67 164.55 627.27 165.92 627.87 167.3 628.46 168.68 629.05 170.07 629.63 171.45 630.2 172.84 630.77 174.24 631.34 175.64 631.9 177.04 632.45 178.44 633 179.85 633.54 181.25 634.08 182.67 634.62 184.08 635.15 185.5 635.68 186.91 636.2 188.34 636.72 189.76 637.24 191.18 637.75 192.61 638.26 194.04 638.76 195.47 639.27 196.91 639.77 198.34 640.26 199.78 640.76 201.22 641.25 202.66 641.73 204.1 642.22 205.54 642.7 206.98 643.19 208.43 643.67 209.87 644.14 211.32 644.62 212.77 645.09 214.22 645.57 215.67 646.04 217.12 646.51 218.57 646.98 220.02 647.45 221.48 647.92 222.93 648.38 224.38 648.85 225.84 649.32 227.29 649.78 228.74 650.25 230.2 650.72 231.65 651.18 233.1 651.65 234.56 652.12 236.01 652.59 237.46 653.06 238.92 653.53 240.37 654 241.82 654.47 243.27 654.94 244.72 655.42 246.17 655.89 247.62 656.37 249.06 656.85 250.51 657.33 251.95 657.82 253.4 658.31 254.84 658.79 256.28 659.29 257.72 659.78 259.16 660.28 260.6 660.78 262.03 661.28 263.46 661.79 264.89 662.3 266.32 662.81 267.75 663.33 269.17 663.85 270.6 664.37 272.02 664.9 273.44 665.43 274.85 665.97 276.26 666.51 277.67 667.05 279.08 667.61 280.49 668.16 281.89 668.72 283.29 669.29 284.69 669.86 286.08 670.43 287.47 671.02 288.86 671.6 290.24 672.2 291.62 672.8 293 673.4 294.37 674.01 295.74 674.63 297.11 675.26 298.47 675.89 299.83 676.52 301.19 677.17 302.54 677.82 303.88 678.48 305.23 679.15 306.57 679.82 307.9 680.5 309.23 681.19 310.55 681.89 311.88 682.59 313.19 683.31 314.5 684.03 315.81 684.76 317.11 685.5 318.41 686.24 319.7 687 320.99 687.76 322.27 688.54 323.55 689.32 324.82 690.11 326.08 690.91 327.34 691.73 328.6 692.55 329.85 693.38 331.09 694.22 332.33 695.07 333.56 695.93 334.78 696.81 336 697.69 337.21 698.58 338.42 699.49 339.61 700.41 340.8 701.33 341.98 702.27 343.14 703.23 344.3 704.19 345.44 705.17 346.57 706.16 347.69 707.17 348.79 708.19 349.87 709.22 350.95 710.27 352 711.33 353.04 712.41 354.06 713.5 355.07 714.6 356.05 715.73 357.02 716.86 357.97 718.02 358.9 719.18 359.81 720.36 360.7 721.56 361.57 722.76 362.43 723.98 363.27 725.22 364.09 726.46 364.88 727.72 365.67 728.99 366.43 730.28 367.17 731.57 367.89 732.88 368.6 734.2 369.28 735.52 369.95 736.86 370.6 738.21 371.23 739.57 371.83 740.94 372.42 742.32 372.99 743.7 373.54 745.1 374.08 746.5 374.59 747.92 375.08 749.34 375.56 750.76 376.01 752.2 376.45 753.65 376.88 755.1 377.28 756.55 377.67 758.02 378.04 759.49 378.4 760.97 378.74 762.45 379.07 763.94 379.38 765.43 379.67 766.93 379.95 768.43 380.22 769.94 380.47 771.45 380.71 772.97 380.94 774.49 381.16 776.01 381.36 777.54 381.55 779.07 381.73 780.6 381.89 782.13 382.05 783.67 382.19 785.21 382.33 786.75 382.45 788.29 382.57 789.83 382.67 791.38 382.77 792.92 382.86 794.47 382.94 796.01 383.01 797.56 383.07 799.1 383.13 800.65 383.18 802.19 383.22 803.73 383.25 805.27 383.28 806.81 383.31 808.35 383.32 809.89 383.34 811.42 383.34 812.95 383.35 814.48 383.35 816 383.34 817.52 383.34 819.04 383.32 820.55 383.31 822.06 383.29 823.56 383.28 825.06 383.25 826.56 383.23 828.05 383.21 829.53 383.19 831.01 383.16 832.48 383.14 833.95 383.11 835.41 383.09 836.86 383.06 838.31 383.04 839.75 383.02 841.18 383 842.6 383.1 841.12 383.2 839.63 383.28 838.14 383.36 836.65 383.44 835.15 383.51 833.65 383.57 832.15 383.62 830.65 383.68 829.15 383.72 827.64 383.77 826.14 383.81 824.63 383.85 823.12 383.88 821.61 383.91 820.09 383.94 818.58 383.97 817.07 384 815.55 384.02 814.03 384.05 812.52 384.07 811 384.1 809.48 384.13 807.96 384.16 806.44 384.19 804.92 384.22 803.4 384.25 801.88 384.29 800.36 384.33 798.84 384.37 797.32 384.42 795.8 384.47 794.29 384.53 792.77 384.59 791.25 384.66 789.74 384.74 788.22 384.82 786.71 384.9 785.2 385 783.68 385.1 782.17 385.21 780.67 385.33 779.16 385.46 777.65 385.59 776.15 385.74 774.65 385.9 773.15 386.06 771.65 386.24 770.16 386.43 768.66 386.63 767.17 386.84 765.69 387.07 764.2 387.31 762.72 387.56 761.24 387.82 759.77 388.1 758.29 388.39 756.82 388.7 755.36 389.02 753.89 389.36 752.43 389.71 750.98 390.08 749.52 390.46 748.07 390.85 746.63 391.26 745.19 391.68 743.75 392.12 742.31 392.56 740.88 393.02 739.45 393.5 738.03 393.98 736.61 394.48 735.19 394.99 733.78 395.51 732.37 396.04 730.96 396.59 729.56 397.14 728.16 397.71 726.77 398.29 725.38 398.88 723.99 399.48 722.61 400.09 721.23 400.71 719.85 401.34 718.48 401.98 717.12 402.64 715.75 403.3 714.39 403.97 713.04 404.64 711.69 405.33 710.34 406.03 709 406.73 707.66 407.45 706.33 408.17 705 408.9 703.67 409.64 702.35 410.38 701.03 411.14 699.72 411.9 698.41 412.66 697.11 413.44 695.81 414.22 694.52 415.01 693.23 415.81 691.94 416.61 690.66 417.42 689.38 418.24 688.11 419.06 686.84 419.9 685.58 420.73 684.33 421.58 683.07 422.43 681.83 423.29 680.58 424.16 679.35 425.03 678.11 425.91 676.89 426.8 675.66 427.69 674.45 428.59 673.24 429.5 672.03 430.41 670.83 431.33 669.64 432.26 668.45 433.19 667.26 434.13 666.08 435.08 664.91 436.03 663.74 436.99 662.58 437.95 661.43 438.93 660.28 439.9 659.13 440.89 657.99 441.88 656.86 442.87 655.73 443.87 654.6 444.87 653.48 445.88 652.36 446.89 651.25 447.9 650.13 448.92 649.02 449.94 647.92 450.96 646.81 451.98 645.71 453.01 644.6 454.03 643.5 455.06 642.4 456.08 641.3 457.11 640.2 458.13 639.09 459.16 637.99 460.18 636.89 461.2 635.78 462.22 634.67 463.24 633.56 464.25 632.45 465.26 631.34 466.27 630.22 467.28 629.1 468.28 627.97 469.27 626.84 470.26 625.71 471.25 624.57 472.23 623.43 473.21 622.28 474.17 621.12 475.14 619.96 476.09 618.79 477.04 617.62 477.99 616.45 478.93 615.26 479.86 614.08 480.79 612.89 481.72 611.69 482.64 610.49 483.55 609.29 484.47 608.09 485.38 606.88 486.28 605.67 487.19 604.45 488.09 603.24 488.98 602.02 489.88 600.8 490.77 599.57 491.67 598.35 492.56 597.13 493.45 595.9 494.34 594.67 495.22 593.45 496.11 592.22 497 590.99 497.89 589.77 498.77 588.54 499.66 587.31 500.55 586.09 501.44 584.87 502.33 583.64 503.23 582.42 504.12 581.21 505.02 579.99 505.92 578.78 506.82 577.57 507.72 576.36 508.63 575.15 509.54 573.95 510.46 572.75 511.38 571.56 512.3 570.37 513.23 569.19 514.16 568.01 515.1 566.83 516.04 565.66 516.99 564.5 517.94 563.34 518.9 562.18 519.86 561.03 520.84 559.89 521.81 558.76 522.8 557.63 523.79 556.51 524.79 555.4 525.8 554.29 526.81 553.19 527.84 552.1 528.87 551.02 529.91 549.95 530.96 548.89 532.02 547.83 533.09 546.78 534.16 545.75 535.25 544.72 536.35 543.7 537.46 542.7 538.58 541.7 539.71 540.71 540.84 539.74 541.99 538.77 543.15 537.82 544.32 536.87 545.49 535.93 546.68 535.01 547.87 534.09 549.07 533.19 550.28 532.29 551.5 531.41 552.73 530.53 553.97 529.67 555.21 528.82 556.46 527.97 557.72 527.14 558.99 526.31 560.26 525.5 561.54 524.7 562.83 523.91 564.12 523.13 565.43 522.35 566.73 521.59 568.05 520.84 569.37 520.1 570.7 519.37 572.03 518.65 573.37 517.94 574.72 517.24 576.07 516.56 577.42 515.88 578.78 515.21 580.15 514.55 581.52 513.91 582.89 513.27 584.28 512.65 585.66 512.03 587.05 511.43 588.44 510.83 589.84 510.25 591.24 509.68 592.65 509.11 594.05 508.56 595.47 508.02 596.88 507.49 598.3 506.97 599.72 506.46 601.14 505.96 602.57 505.48 604 505" stroke="#ff8000" stroke-width="3.7" fill="none" stroke-linejoin="round" stroke-linecap="butt"/>
<path d="M155.3 654.6 156.76 655.1 158.22 655.59 159.68 656.08 161.14 656.56 162.59 657.04 164.05 657.51 165.51 657.98 166.96 658.44 168.42 658.9 169.87 659.36 171.33 659.81 172.78 660.26 174.23 660.7 175.69 661.14 177.14 661.57 178.59 662 180.04 662.43 181.5 662.85 182.95 663.27 184.4 663.69 185.85 664.1 187.3 664.51 188.75 664.91 190.2 665.31 191.65 665.71 193.1 666.1 194.55 666.49 196 666.88 197.45 667.26 198.9 667.64 200.35 668.02 201.8 668.39 203.25 668.76 204.7 669.13 206.16 669.49 207.61 669.85 209.06 670.21 210.51 670.57 211.96 670.92 213.41 671.27 214.87 671.62 216.32 671.97 217.77 672.31 219.23 672.65 220.68 672.99 222.14 673.32 223.59 673.66 225.05 673.99 226.51 674.32 227.96 674.65 229.42 674.97 230.88 675.29 232.34 675.62 233.8 675.94 235.26 676.25 236.72 676.57 238.19 676.88 239.65 677.19 241.12 677.51 242.58 677.81 244.05 678.12 245.52 678.43 246.98 678.73 248.45 679.04 249.92 679.34 251.4 679.64 252.87 679.94 254.34 680.24 255.82 680.54 257.29 680.84 258.77 681.13 260.25 681.43 261.73 681.72 263.21 682.02 264.69 682.31 266.18 682.6 267.66 682.89 269.15 683.18 270.64 683.48 272.13 683.77 273.62 684.06 275.12 684.35 276.61 684.64 278.11 684.93 279.6 685.22 281.1 685.51 282.61 685.8 284.11 686.09 285.61 686.38 287.12 686.67 288.62 686.96 290.13 687.26 291.63 687.56 293.14 687.86 294.64 688.17 296.15 688.48 297.65 688.79 299.16 689.11 300.66 689.43 302.16 689.75 303.66 690.08 305.16 690.42 306.65 690.77 308.14 691.12 309.64 691.47 311.12 691.84 312.61 692.21 314.09 692.59 315.57 692.97 317.05 693.37 318.52 693.78 319.99 694.19 321.46 694.61 322.92 695.05 324.37 695.49 325.82 695.95 327.27 696.41 328.71 696.89 330.14 697.38 331.57 697.88 333 698.39 334.42 698.92 335.83 699.46 337.23 700.02 338.63 700.58 340.03 701.17 341.41 701.76 342.79 702.37 344.16 703 345.52 703.64 346.87 704.3 348.22 704.98 349.56 705.67 350.89 706.38 352.21 707.11 353.52 707.85 354.82 708.61 356.11 709.39 357.38 710.19 358.65 711 359.9 711.83 361.14 712.68 362.36 713.55 363.57 714.43 364.76 715.33 365.94 716.25 367.1 717.18 368.25 718.14 369.37 719.11 370.48 720.09 371.57 721.1 372.64 722.12 373.69 723.17 374.72 724.23 375.73 725.3 376.72 726.4 377.68 727.51 378.63 728.64 379.55 729.78 380.45 730.94 381.32 732.12 382.18 733.31 383.01 734.52 383.82 735.74 384.6 736.97 385.36 738.22 386.1 739.49 386.81 740.76 387.5 742.05 388.17 743.36 388.81 744.67 389.42 746 390.01 747.34 390.58 748.69 391.13 750.05 391.65 751.43 392.14 752.81 392.62 754.2 393.07 755.61 393.5 757.02 393.92 758.45 394.31 759.88 394.68 761.32 395.03 762.78 395.36 764.24 395.68 765.71 395.97 767.18 396.25 768.67 396.51 770.16 396.75 771.66 396.98 773.17 397.19 774.68 397.39 776.2 397.57 777.73 397.73 779.26 397.88 780.8 398.02 782.35 398.14 783.9 398.25 785.45 398.35 787.01 398.44 788.57 398.51 790.14 398.58 791.71 398.63 793.29 398.67 794.86 398.7 796.45 398.73 798.03 398.74 799.62 398.75 801.21 398.75 802.8 398.74 804.39 398.72 805.98 398.69 807.58 398.66 809.18 398.63 810.77 398.58 812.37 398.54 813.97 398.49 815.57 398.43 817.17 398.37 818.76 398.31 820.36 398.24 821.95 398.18 823.55 398.11 825.14 398.04 826.73 397.96 828.32 397.89 829.9 397.82 831.49 397.75 833.06 397.67 834.64 397.6 836.21 397.53 837.78 397.47 839.35 397.4 840.91 397.34 842.46 397.28 844.02 397.23 845.56 397.18 847.1 397.13 848.64 397.09 850.17 397.06 851.69 397.03 853.21 397 854.72 396.99 856.22 396.98 857.71 396.98 859.2 396.99 860.68 397 862.15 397.03 863.62 397.06 865.07 397.11 866.52 397.16 867.96 397.23 869.39 397.31 870.8 397.4 872.21 397.5 873.61 397.61 875 397.74 876.38 397.88 877.74 398.03 879.1 398.2 880.44 398.39 881.77 398.59 883.09 398.8 884.4 398.89 882.93 398.96 881.45 399.04 879.98 399.1 878.5 399.16 877.02 399.22 875.53 399.27 874.05 399.31 872.56 399.35 871.07 399.38 869.58 399.41 868.09 399.43 866.59 399.45 865.1 399.47 863.6 399.48 862.1 399.49 860.6 399.49 859.09 399.49 857.59 399.49 856.08 399.49 854.57 399.48 853.07 399.47 851.55 399.46 850.04 399.45 848.53 399.43 847.02 399.42 845.5 399.4 843.99 399.39 842.47 399.37 840.95 399.35 839.44 399.33 837.92 399.31 836.4 399.29 834.88 399.27 833.36 399.26 831.84 399.24 830.32 399.22 828.79 399.21 827.27 399.2 825.75 399.19 824.23 399.18 822.7 399.17 821.18 399.17 819.66 399.17 818.14 399.17 816.61 399.17 815.09 399.18 813.57 399.19 812.05 399.21 810.52 399.23 809 399.25 807.48 399.28 805.96 399.31 804.44 399.35 802.92 399.4 801.4 399.44 799.88 399.5 798.37 399.56 796.85 399.62 795.34 399.7 793.82 399.78 792.31 399.86 790.79 399.95 789.28 400.05 787.77 400.16 786.26 400.28 784.76 400.4 783.25 400.53 781.75 400.67 780.24 400.82 778.74 400.98 777.24 401.14 775.74 401.32 774.24 401.5 772.75 401.69 771.26 401.9 769.76 402.11 768.27 402.34 766.79 402.57 765.3 402.82 763.82 403.07 762.34 403.34 760.86 403.62 759.38 403.91 757.91 404.22 756.43 404.53 754.96 404.86 753.5 405.2 752.03 405.55 750.57 405.92 749.11 406.3 747.65 406.69 746.2 407.1 744.75 407.52 743.3 407.95 741.86 408.4 740.42 408.87 738.98 409.35 737.54 409.84 736.12 410.35 734.69 410.88 733.28 411.42 731.87 411.99 730.47 412.56 729.07 413.16 727.69 413.78 726.31 414.41 724.95 415.06 723.59 415.74 722.25 416.43 720.91 417.14 719.59 417.87 718.29 418.63 716.99 419.4 715.71 420.2 714.45 421.02 713.2 421.86 711.96 422.73 710.75 423.61 709.54 424.51 708.35 425.43 707.17 426.37 706.01 427.32 704.85 428.29 703.71 429.27 702.57 430.27 701.45 431.28 700.33 432.29 699.23 433.32 698.12 434.36 697.03 435.4 695.94 436.45 694.86 437.51 693.78 438.57 692.71 439.63 691.64 440.7 690.57 441.78 689.5 442.85 688.44 443.93 687.39 445.02 686.33 446.1 685.28 447.19 684.23 448.28 683.18 449.37 682.14 450.47 681.09 451.56 680.05 452.66 679.02 453.77 677.98 454.88 676.95 455.99 675.93 457.11 674.91 458.23 673.89 459.35 672.88 460.48 671.88 461.62 670.87 462.76 669.87 463.9 668.88 465.04 667.88 466.18 666.89 467.33 665.9 468.47 664.91 469.62 663.92 470.76 662.92 471.9 661.93 473.03 660.93 474.16 659.93 475.29 658.93 476.41 657.92 477.52 656.9 478.62 655.88 479.72 654.85 480.81 653.82 481.89 652.77 482.96 651.72 484.02 650.66 485.07 649.6 486.11 648.52 487.14 647.44 488.16 646.35 489.18 645.25 490.18 644.15 491.17 643.03 492.16 641.91 493.13 640.79 494.1 639.65 495.06 638.51 496 637.35 496.94 636.2 497.87 635.03 498.79 633.85 499.69 632.67 500.59 631.48 501.48 630.29 502.36 629.08 503.23 627.87 504.09 626.65 504.95 625.42 505.79 624.19 506.62 622.95 507.44 621.7 508.26 620.44 509.06 619.18 509.86 617.91 510.64 616.63 511.42 615.34 512.18 614.05 512.94 612.75 513.69 611.44 514.43 610.13 515.16 608.82 515.89 607.49 516.61 606.17 517.33 604.83 518.04 603.5 518.74 602.16 519.44 600.82 520.14 599.47 520.83 598.12 521.52 596.77 522.21 595.42 522.89 594.07 523.57 592.71 524.26 591.36 524.94 590 525.62 588.64 526.3 587.29 526.98 585.93 527.66 584.58 528.34 583.23 529.03 581.88 529.72 580.53 530.41 579.19 531.1 577.84 531.8 576.5 532.5 575.17 533.2 573.83 533.91 572.5 534.61 571.17 535.32 569.84 536.03 568.51 536.73 567.18 537.44 565.85 538.15 564.52 538.86 563.19 539.56 561.86 540.26 560.53 540.97 559.2 541.67 557.87 542.36 556.53 543.06 555.2 543.76 553.86 544.46 552.53 545.16 551.2 545.87 549.87 546.58 548.55 547.3 547.23 548.03 545.91 548.76 544.6 549.5 543.3 550.26 542 551.02 540.71 551.8 539.43 552.59 538.16 553.39 536.9 554.21 535.65 555.04 534.41 555.9 533.18 556.77 531.97 557.66 530.77 558.57 529.58 559.5 528.4 560.44 527.24 561.4 526.1 562.38 524.96 563.38 523.84 564.4 522.74 565.43 521.65 566.47 520.57 567.54 519.51 568.62 518.46 569.71 517.43 570.82 516.41 571.94 515.41 573.08 514.42 574.23 513.45 575.4 512.49 576.58 511.55 577.77 510.62 578.97 509.71 580.19 508.81 581.42 507.93 582.66 507.07 583.91 506.22 585.18 505.39 586.45 504.58 587.74 503.78 589.04 503 590.34 502.23 591.66 501.48 592.99 500.75 594.32 500.04 595.66 499.34 597.02 498.66 598.38 498 599.75 497.36 601.12 496.73 602.51 496.12 603.9 495.53 605.29 494.95 606.7 494.4 608.11 493.86 609.52 493.34 610.94 492.84 612.37 492.36 613.8 491.9" stroke="#808000" stroke-width="3.7" fill="none" stroke-linejoin="round" stroke-linecap="butt"/>
<path d="M146.8 563.6 148.17 564.22 149.55 564.83 150.93 565.43 152.31 566.03 153.7 566.61 155.09 567.19 156.49 567.75 157.89 568.31 159.3 568.86 160.7 569.4 162.12 569.93 163.53 570.46 164.95 570.98 166.37 571.49 167.79 571.99 169.22 572.49 170.65 572.98 172.09 573.46 173.52 573.94 174.96 574.41 176.4 574.87 177.85 575.33 179.29 575.78 180.74 576.23 182.19 576.67 183.65 577.11 185.1 577.55 186.56 577.97 188.02 578.4 189.48 578.82 190.94 579.23 192.4 579.65 193.87 580.05 195.33 580.46 196.8 580.86 198.27 581.26 199.74 581.66 201.21 582.05 202.68 582.44 204.15 582.83 205.63 583.22 207.1 583.6 208.58 583.99 210.05 584.37 211.52 584.75 213 585.13 214.47 585.51 215.95 585.89 217.42 586.27 218.9 586.65 220.37 587.02 221.85 587.4 223.32 587.78 224.79 588.16 226.27 588.54 227.74 588.92 229.21 589.3 230.68 589.68 232.15 590.07 233.62 590.46 235.08 590.84 236.55 591.24 238.01 591.63 239.47 592.02 240.93 592.42 242.39 592.82 243.85 593.23 245.3 593.64 246.76 594.05 248.21 594.46 249.66 594.88 251.1 595.3 252.55 595.73 253.99 596.16 255.43 596.6 256.87 597.04 258.3 597.49 259.73 597.94 261.16 598.4 262.58 598.86 264.01 599.33 265.42 599.8 266.84 600.29 268.25 600.77 269.66 601.27 271.06 601.77 272.46 602.28 273.86 602.79 275.26 603.32 276.65 603.85 278.03 604.38 279.42 604.93 280.8 605.48 282.18 606.05 283.55 606.61 284.92 607.19 286.29 607.78 287.66 608.37 289.03 608.97 290.39 609.58 291.75 610.2 293.11 610.83 294.46 611.47 295.82 612.11 297.17 612.76 298.53 613.42 299.88 614.09 301.23 614.76 302.59 615.44 303.94 616.12 305.3 616.81 306.66 617.5 308.02 618.2 309.38 618.9 310.74 619.61 312.11 620.32 313.47 621.04 314.84 621.76 316.2 622.49 317.56 623.23 318.91 623.98 320.26 624.73 321.6 625.5 322.94 626.27 324.27 627.06 325.59 627.86 326.9 628.66 328.2 629.48 329.49 630.32 330.76 631.16 332.03 632.02 333.28 632.9 334.51 633.79 335.73 634.7 336.93 635.62 338.11 636.56 339.28 637.51 340.42 638.49 341.54 639.48 342.65 640.5 343.72 641.53 344.78 642.58 345.81 643.66 346.82 644.75 347.81 645.86 348.77 647 349.71 648.15 350.63 649.31 351.52 650.5 352.39 651.7 353.24 652.92 354.07 654.16 354.88 655.41 355.67 656.67 356.44 657.95 357.19 659.24 357.92 660.55 358.62 661.87 359.31 663.2 359.98 664.54 360.63 665.9 361.27 667.26 361.88 668.63 362.48 670.02 363.06 671.41 363.62 672.81 364.16 674.22 364.69 675.63 365.2 677.06 365.7 678.49 366.18 679.92 366.64 681.36 367.09 682.81 367.52 684.26 367.94 685.71 368.34 687.17 368.73 688.63 369.11 690.09 369.47 691.55 369.82 693.02 370.15 694.49 370.48 695.97 370.79 697.45 371.09 698.93 371.37 700.41 371.65 701.89 371.91 703.38 372.17 704.87 372.41 706.36 372.64 707.86 372.87 709.35 373.08 710.85 373.29 712.35 373.49 713.85 373.67 715.35 373.85 716.85 374.03 718.36 374.19 719.87 374.35 721.37 374.5 722.88 374.64 724.39 374.78 725.9 374.91 727.42 375.04 728.93 375.16 730.44 375.28 731.95 375.39 733.47 375.49 734.98 375.6 736.5 375.7 738.01 375.79 739.53 375.89 741.04 375.98 742.56 376.06 744.07 376.15 745.59 376.23 747.1 376.32 748.61 376.4 750.13 376.48 751.64 376.56 753.15 376.64 754.66 376.72 756.17 376.8 757.68 376.88 759.18 376.96 760.69 377.05 762.2 377.13 763.7 377.22 765.2 377.31 766.7 377.4 768.2 377.51 766.7 377.61 765.19 377.71 763.69 377.8 762.18 377.88 760.68 377.97 759.17 378.04 757.67 378.11 756.16 378.18 754.65 378.25 753.14 378.31 751.63 378.37 750.12 378.42 748.61 378.48 747.1 378.53 745.59 378.58 744.08 378.63 742.57 378.67 741.05 378.72 739.54 378.76 738.03 378.81 736.52 378.86 735 378.9 733.49 378.95 731.98 379 730.47 379.05 728.95 379.1 727.44 379.15 725.93 379.21 724.42 379.27 722.91 379.33 721.4 379.39 719.88 379.46 718.37 379.53 716.86 379.61 715.35 379.69 713.84 379.78 712.33 379.87 710.83 379.97 709.32 380.07 707.81 380.18 706.3 380.3 704.8 380.42 703.29 380.55 701.79 380.69 700.29 380.83 698.78 380.98 697.28 381.14 695.78 381.32 694.28 381.49 692.78 381.68 691.29 381.88 689.79 382.09 688.3 382.31 686.8 382.54 685.31 382.79 683.83 383.05 682.34 383.32 680.86 383.61 679.39 383.92 677.92 384.24 676.45 384.58 674.99 384.94 673.54 385.32 672.09 385.71 670.65 386.13 669.22 386.57 667.79 387.03 666.37 387.51 664.96 388.02 663.56 388.55 662.17 389.11 660.79 389.68 659.41 390.28 658.05 390.9 656.69 391.54 655.34 392.19 654 392.87 652.67 393.57 651.34 394.29 650.03 395.03 648.72 395.78 647.42 396.55 646.13 397.34 644.85 398.15 643.58 398.97 642.31 399.81 641.06 400.66 639.81 401.53 638.57 402.41 637.33 403.31 636.11 404.21 634.89 405.14 633.68 406.07 632.48 407.02 631.28 407.98 630.1 408.95 628.92 409.93 627.75 410.92 626.59 411.92 625.43 412.94 624.28 413.95 623.14 414.98 622.01 416.02 620.88 417.06 619.76 418.11 618.65 419.17 617.55 420.24 616.45 421.31 615.36 422.38 614.28 423.46 613.2 424.55 612.14 425.63 611.07 426.73 610.02 427.82 608.97 428.92 607.93 430.02 606.9 431.13 605.87 432.24 604.85 433.35 603.84 434.47 602.84 435.6 601.84 436.72 600.85 437.86 599.87 438.99 598.89 440.13 597.93 441.28 596.97 442.43 596.01 443.59 595.07 444.76 594.13 445.92 593.2 447.1 592.28 448.28 591.37 449.47 590.46 450.66 589.56 451.86 588.67 453.06 587.79 454.27 586.91 455.49 586.04 456.71 585.18 457.94 584.32 459.17 583.47 460.4 582.62 461.64 581.78 462.89 580.95 464.14 580.11 465.39 579.28 466.65 578.46 467.91 577.64 469.17 576.82 470.43 576 471.7 575.18 472.97 574.37 474.24 573.56 475.51 572.75 476.79 571.94 478.06 571.13 479.34 570.32 480.61 569.51 481.89 568.7 483.16 567.89 484.44 567.08 485.72 566.28 487 565.47 488.28 564.66 489.56 563.86 490.84 563.06 492.12 562.26 493.41 561.46 494.69 560.66 495.98 559.86 497.27 559.07 498.56 558.28 499.85 557.5 501.14 556.71 502.44 555.93 503.73 555.16 505.03 554.38 506.33 553.61 507.63 552.85 508.94 552.09 510.24 551.33 511.55 550.57 512.86 549.82 514.17 549.07 515.48 548.32 516.8 547.58 518.11 546.84 519.43 546.11 520.75 545.37 522.07 544.65 523.39 543.92 524.72 543.2 526.04 542.48 527.37 541.77 528.7 541.05 530.03 540.35 531.36 539.64 532.7 538.94 534.03 538.24 535.37 537.55 536.71 536.86 538.05 536.17 539.39 535.48 540.74 534.8 542.08 534.12 543.43 533.45 544.78 532.78 546.13 532.11 547.48 531.45 548.84 530.79 550.19 530.13 551.55 529.48 552.91 528.82 554.27 528.18 555.63 527.53 557 526.89 558.36 526.26 559.73 525.62 561.1 524.99 562.47 524.36 563.84 523.74 565.21 523.12 566.59 522.5 567.96 521.89 569.34 521.28 570.72 520.67 572.1 520.07 573.48 519.47 574.87 518.87 576.25 518.28 577.64 517.69 579.03 517.1 580.42 516.52 581.81 515.94 583.21 515.37 584.6 514.79 586 514.22 587.39 513.66 588.79 513.09 590.19 512.53 591.6 511.98 593 511.42 594.41 510.88 595.81 510.33 597.22 509.79 598.63 509.25 600.04 508.71 601.45 508.18 602.87 507.65 604.28 507.12 605.7 506.6" stroke="#800040" stroke-width="3.7" fill="none" stroke-linejoin="round" stroke-linecap="butt"/>
<path d="M97.35 887.6v-3.2M97.35 488.3v3.2M106.53 887.6v-3.2M106.53 488.3v3.2M115.72 887.6v-3.2M115.72 488.3v3.2M124.9 887.6v-7.5M124.9 488.3v7.5M134.08 887.6v-3.2M134.08 488.3v3.2M143.27 887.6v-3.2M143.27 488.3v3.2M152.45 887.6v-3.2M152.45 488.3v3.2M161.64 887.6v-3.2M161.64 488.3v3.2M170.82 887.6v-3.2M170.82 488.3v3.2M180 887.6v-3.2M180 488.3v3.2M189.19 887.6v-3.2M189.19 488.3v3.2M198.37 887.6v-3.2M198.37 488.3v3.2M207.56 887.6v-3.2M207.56 488.3v3.2M216.74 887.6v-7.5M216.74 488.3v7.5M225.92 887.6v-3.2M225.92 488.3v3.2M235.11 887.6v-3.2M235.11 488.3v3.2M244.29 887.6v-3.2M244.29 488.3v3.2M253.48 887.6v-3.2M253.48 488.3v3.2M262.66 887.6v-3.2M262.66 488.3v3.2M271.84 887.6v-3.2M271.84 488.3v3.2M281.03 887.6v-3.2M281.03 488.3v3.2M290.21 887.6v-3.2M290.21 488.3v3.2M299.4 887.6v-3.2M299.4 488.3v3.2M308.58 887.6v-7.5M308.58 488.3v7.5M317.76 887.6v-3.2M317.76 488.3v3.2M326.95 887.6v-3.2M326.95 488.3v3.2M336.13 887.6v-3.2M336.13 488.3v3.2M345.32 887.6v-3.2M345.32 488.3v3.2M354.5 887.6v-3.2M354.5 488.3v3.2M363.68 887.6v-3.2M363.68 488.3v3.2M372.87 887.6v-3.2M372.87 488.3v3.2M382.05 887.6v-3.2M382.05 488.3v3.2M391.24 887.6v-3.2M391.24 488.3v3.2M400.42 887.6v-7.5M400.42 488.3v7.5M409.6 887.6v-3.2M409.6 488.3v3.2M418.79 887.6v-3.2M418.79 488.3v3.2M427.97 887.6v-3.2M427.97 488.3v3.2M437.16 887.6v-3.2M437.16 488.3v3.2M446.34 887.6v-3.2M446.34 488.3v3.2M455.52 887.6v-3.2M455.52 488.3v3.2M464.71 887.6v-3.2M464.71 488.3v3.2M473.89 887.6v-3.2M473.89 488.3v3.2M483.08 887.6v-3.2M483.08 488.3v3.2M492.26 887.6v-7.5M492.26 488.3v7.5M501.44 887.6v-3.2M501.44 488.3v3.2M510.63 887.6v-3.2M510.63 488.3v3.2M519.81 887.6v-3.2M519.81 488.3v3.2M529 887.6v-3.2M529 488.3v3.2M538.18 887.6v-3.2M538.18 488.3v3.2M547.36 887.6v-3.2M547.36 488.3v3.2M556.55 887.6v-3.2M556.55 488.3v3.2M565.73 887.6v-3.2M565.73 488.3v3.2M574.92 887.6v-3.2M574.92 488.3v3.2M584.1 887.6v-7.5M584.1 488.3v7.5M593.28 887.6v-3.2M593.28 488.3v3.2M602.47 887.6v-3.2M602.47 488.3v3.2M611.65 887.6v-3.2M611.65 488.3v3.2M620.84 887.6v-3.2M620.84 488.3v3.2M630.02 887.6v-3.2M630.02 488.3v3.2M639.2 887.6v-3.2M639.2 488.3v3.2M648.39 887.6v-3.2M648.39 488.3v3.2M657.57 887.6v-3.2M657.57 488.3v3.2M96.5 871.58h3.2M662.2 871.58h-3.2M96.5 859.97h3.2M662.2 859.97h-3.2M96.5 851.73h3.2M662.2 851.73h-3.2M96.5 845.34h3.2M662.2 845.34h-3.2M96.5 840.12h3.2M662.2 840.12h-3.2M96.5 835.71h3.2M662.2 835.71h-3.2M96.5 831.89h3.2M662.2 831.89h-3.2M96.5 828.52h3.2M662.2 828.52h-3.2M96.5 825.5h7.5M662.2 825.5h-7.5M96.5 805.66h3.2M662.2 805.66h-3.2M96.5 794.05h3.2M662.2 794.05h-3.2M96.5 785.81h3.2M662.2 785.81h-3.2M96.5 779.42h3.2M662.2 779.42h-3.2M96.5 774.2h3.2M662.2 774.2h-3.2M96.5 769.79h3.2M662.2 769.79h-3.2M96.5 765.97h3.2M662.2 765.97h-3.2M96.5 762.6h3.2M662.2 762.6h-3.2M96.5 759.58h7.5M662.2 759.58h-7.5M96.5 739.74h3.2M662.2 739.74h-3.2M96.5 728.13h3.2M662.2 728.13h-3.2M96.5 719.89h3.2M662.2 719.89h-3.2M96.5 713.5h3.2M662.2 713.5h-3.2M96.5 708.28h3.2M662.2 708.28h-3.2M96.5 703.87h3.2M662.2 703.87h-3.2M96.5 700.05h3.2M662.2 700.05h-3.2M96.5 696.68h3.2M662.2 696.68h-3.2M96.5 693.66h7.5M662.2 693.66h-7.5M96.5 673.82h3.2M662.2 673.82h-3.2M96.5 662.21h3.2M662.2 662.21h-3.2M96.5 653.97h3.2M662.2 653.97h-3.2M96.5 647.58h3.2M662.2 647.58h-3.2M96.5 642.36h3.2M662.2 642.36h-3.2M96.5 637.95h3.2M662.2 637.95h-3.2M96.5 634.13h3.2M662.2 634.13h-3.2M96.5 630.76h3.2M662.2 630.76h-3.2M96.5 627.74h7.5M662.2 627.74h-7.5M96.5 607.9h3.2M662.2 607.9h-3.2M96.5 596.29h3.2M662.2 596.29h-3.2M96.5 588.05h3.2M662.2 588.05h-3.2M96.5 581.66h3.2M662.2 581.66h-3.2M96.5 576.44h3.2M662.2 576.44h-3.2M96.5 572.03h3.2M662.2 572.03h-3.2M96.5 568.21h3.2M662.2 568.21h-3.2M96.5 564.84h3.2M662.2 564.84h-3.2M96.5 561.82h7.5M662.2 561.82h-7.5M96.5 541.98h3.2M662.2 541.98h-3.2M96.5 530.37h3.2M662.2 530.37h-3.2M96.5 522.13h3.2M662.2 522.13h-3.2M96.5 515.74h3.2M662.2 515.74h-3.2M96.5 510.52h3.2M662.2 510.52h-3.2M96.5 506.11h3.2M662.2 506.11h-3.2M96.5 502.29h3.2M662.2 502.29h-3.2M96.5 498.92h3.2M662.2 498.92h-3.2M96.5 495.9h7.5M662.2 495.9h-7.5" stroke="#000" stroke-width="1.5" fill="none"/>
<rect x="96.5" y="488.3" width="565.7" height="399.3" fill="none" stroke="#000" stroke-width="1.8"/>
<text x="87.6" y="502.3" text-anchor="end" class="tl">0.1</text>
<text x="87.6" y="568.22" text-anchor="end" class="tl">0.01</text>
<text x="87.6" y="634.14" text-anchor="end" class="tl">0.001</text>
<text x="87.6" y="700.06" text-anchor="end" class="tl">0.0001</text>
<text x="87.6" y="765.98" text-anchor="end" class="tl">1E-5</text>
<text x="87.6" y="831.9" text-anchor="end" class="tl">1E-6</text>
<text x="123.7" y="909.2" text-anchor="middle" class="tl">-0.7</text>
<text x="215.54" y="909.2" text-anchor="middle" class="tl">-0.6</text>
<text x="307.38" y="909.2" text-anchor="middle" class="tl">-0.5</text>
<text x="399.22" y="909.2" text-anchor="middle" class="tl">-0.4</text>
<text x="491.06" y="909.2" text-anchor="middle" class="tl">-0.3</text>
<text x="582.9" y="909.2" text-anchor="middle" class="tl">-0.2</text>
<text x="335" y="932" class="at" text-anchor="middle">E / (V vs. Ag/AgCl)</text>
<text transform="translate(27 706.5) rotate(-90)" class="yt" text-anchor="middle">log i / (A cm<tspan dy="-7" font-size="12.5">2</tspan><tspan dy="7">)</tspan></text>
<text x="336.6" y="522" class="pl" text-anchor="middle">(b)</text>
<line x1="501.1" y1="705.5" x2="524.8" y2="705.5" stroke="#000000" stroke-width="3.5"/>
<text x="530.6" y="713.8" class="lg" word-spacing="2">1 M HCl</text>
<line x1="501.1" y1="725.9" x2="524.8" y2="725.9" stroke="#ff0080" stroke-width="3.5"/>
<text x="530.6" y="734.2" class="lg">10 ppm NaBenz</text>
<line x1="501.1" y1="745.9" x2="524.8" y2="745.9" stroke="#ff0000" stroke-width="3.5"/>
<text x="530.6" y="754.2" class="lg">100 ppm</text>
<line x1="501.1" y1="766" x2="524.8" y2="766" stroke="#008000" stroke-width="3.5"/>
<text x="530.6" y="774.3" class="lg">200 ppm</text>
<line x1="501.1" y1="786.6" x2="524.8" y2="786.6" stroke="#0000ff" stroke-width="3.5"/>
<text x="530.6" y="794.9" class="lg">300 ppm</text>
<line x1="501.1" y1="807.3" x2="524.8" y2="807.3" stroke="#ff8000" stroke-width="3.5"/>
<text x="530.6" y="815.6" class="lg">400 ppm</text>
<line x1="501.1" y1="827.4" x2="524.8" y2="827.4" stroke="#808000" stroke-width="3.5"/>
<text x="530.6" y="835.7" class="lg">500 ppm</text>
<line x1="501.1" y1="847.5" x2="524.8" y2="847.5" stroke="#800040" stroke-width="3.5"/>
<text x="530.6" y="855.8" class="lg">600 ppm</text>
</g>
</svg></body></html>
